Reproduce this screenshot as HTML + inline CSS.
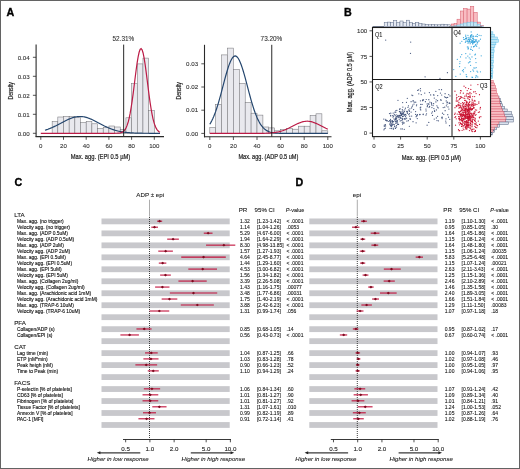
<!DOCTYPE html>
<html><head><meta charset="utf-8"><style>
html,body{margin:0;padding:0;background:#fff;}
.wrap{position:relative;width:520px;height:469px;overflow:hidden;background:#fff;}
svg{position:absolute;left:0;top:0;filter:blur(0.3px);font-family:"Liberation Sans", sans-serif;}
.bd{position:absolute;left:0;top:0;width:520px;height:469px;box-sizing:border-box;border:1px solid #636363;}
.bd2{position:absolute;left:1px;top:1px;width:518px;height:467px;box-sizing:border-box;border:1px solid #b4b4b4;border-left-color:#c8c8c8;border-top-color:#bdbdbd;}
</style></head><body><div class="wrap">
<svg width="520" height="469" viewBox="0 0 520 469">
<text x="6.60" y="16.00" font-size="10.7" text-anchor="start" fill="#000" font-weight="bold" stroke="#000" stroke-width="0.35">A</text>
<text x="343.90" y="15.80" font-size="10.7" text-anchor="start" fill="#000" font-weight="bold" stroke="#000" stroke-width="0.35">B</text>
<text x="14.40" y="185.50" font-size="10.7" text-anchor="start" fill="#000" font-weight="bold" stroke="#000" stroke-width="0.35">C</text>
<text x="295.40" y="186.00" font-size="10.7" text-anchor="start" fill="#000" font-weight="bold" stroke="#000" stroke-width="0.35">D</text>
<rect x="52.15" y="121.60" width="5.67" height="11.70" fill="#e9e9ee" stroke="#77777c" stroke-width="0.55" />
<rect x="57.82" y="117.00" width="5.67" height="16.30" fill="#e9e9ee" stroke="#77777c" stroke-width="0.55" />
<rect x="63.50" y="116.50" width="5.67" height="16.80" fill="#e9e9ee" stroke="#77777c" stroke-width="0.55" />
<rect x="69.17" y="116.50" width="5.67" height="16.80" fill="#e9e9ee" stroke="#77777c" stroke-width="0.55" />
<rect x="74.85" y="117.40" width="5.67" height="15.90" fill="#e9e9ee" stroke="#77777c" stroke-width="0.55" />
<rect x="80.53" y="122.50" width="5.67" height="10.80" fill="#e9e9ee" stroke="#77777c" stroke-width="0.55" />
<rect x="86.20" y="121.60" width="5.67" height="11.70" fill="#e9e9ee" stroke="#77777c" stroke-width="0.55" />
<rect x="91.88" y="123.80" width="5.67" height="9.50" fill="#e9e9ee" stroke="#77777c" stroke-width="0.55" />
<rect x="97.55" y="128.30" width="5.67" height="5.00" fill="#e9e9ee" stroke="#77777c" stroke-width="0.55" />
<rect x="103.22" y="127.40" width="5.67" height="5.90" fill="#e9e9ee" stroke="#77777c" stroke-width="0.55" />
<rect x="108.90" y="126.00" width="5.67" height="7.30" fill="#e9e9ee" stroke="#77777c" stroke-width="0.55" />
<rect x="114.58" y="127.00" width="5.67" height="6.30" fill="#e9e9ee" stroke="#77777c" stroke-width="0.55" />
<rect x="120.25" y="129.40" width="5.67" height="3.90" fill="#e9e9ee" stroke="#77777c" stroke-width="0.55" />
<rect x="125.92" y="117.80" width="5.67" height="15.50" fill="#e9e9ee" stroke="#77777c" stroke-width="0.55" />
<rect x="131.60" y="83.70" width="5.67" height="49.60" fill="#e9e9ee" stroke="#77777c" stroke-width="0.55" />
<rect x="137.27" y="63.90" width="5.67" height="69.40" fill="#e9e9ee" stroke="#77777c" stroke-width="0.55" />
<rect x="142.95" y="58.10" width="5.67" height="75.20" fill="#e9e9ee" stroke="#77777c" stroke-width="0.55" />
<rect x="148.62" y="110.40" width="5.67" height="22.90" fill="#e9e9ee" stroke="#77777c" stroke-width="0.55" />
<polyline points="45.00,130.20 45.96,129.91 46.92,129.59 47.87,129.26 48.83,128.90 49.79,128.53 50.75,128.14 51.71,127.73 52.66,127.31 53.62,126.87 54.58,126.41 55.54,125.94 56.50,125.46 57.46,124.97 58.41,124.47 59.37,123.96 60.33,123.45 61.29,122.93 62.25,122.42 63.20,121.91 64.16,121.41 65.12,120.92 66.08,120.44 67.04,119.97 67.99,119.53 68.95,119.10 69.91,118.70 70.87,118.32 71.83,117.98 72.79,117.66 73.74,117.38 74.70,117.14 75.66,116.93 76.62,116.77 77.58,116.64 78.53,116.56 79.49,116.52 80.45,116.52 81.41,116.56 82.37,116.65 83.32,116.77 84.28,116.94 85.24,117.15 86.20,117.39 87.16,117.67 88.12,117.99 89.07,118.33 90.03,118.71 90.99,119.11 91.95,119.54 92.91,119.99 93.86,120.45 94.82,120.93 95.78,121.43 96.74,121.93 97.70,122.44 98.65,122.95 99.61,123.46 100.57,123.97 101.53,124.48 102.49,124.98 103.45,125.47 104.40,125.96 105.36,126.42 106.32,126.88 107.28,127.32 108.24,127.75 109.19,128.15 110.15,128.54 111.11,128.92 112.07,129.27 113.03,129.60 113.98,129.92 114.94,130.21 115.90,130.49 116.86,130.75 117.82,130.99 118.78,131.21 119.73,131.42 120.69,131.61 121.65,131.78 122.61,131.94 123.57,132.09 124.52,132.22 125.48,132.35 126.44,132.45 127.40,132.55 128.36,132.64 129.31,132.72 130.27,132.79 131.23,132.86 132.19,132.91 133.15,132.96 134.11,133.01 135.06,133.05 136.02,133.08 136.98,133.11 137.94,133.14 138.90,133.16 139.85,133.18 140.81,133.20 141.77,133.21 142.73,133.23 143.69,133.24 144.64,133.25 145.60,133.26 146.56,133.26 147.52,133.27 148.48,133.27 149.44,133.28 150.39,133.28 151.35,133.29 152.31,133.29 153.27,133.29 154.23,133.29 155.18,133.29 156.14,133.29 157.10,133.30 158.06,133.30 159.02,133.30 159.97,133.30" fill="none" stroke="#24466e" stroke-width="1.2"/>
<polyline points="40.80,133.30 41.79,133.30 42.79,133.30 43.78,133.30 44.77,133.30 45.77,133.30 46.76,133.30 47.75,133.30 48.74,133.30 49.74,133.30 50.73,133.30 51.72,133.30 52.72,133.30 53.71,133.30 54.70,133.30 55.70,133.30 56.69,133.30 57.68,133.30 58.68,133.30 59.67,133.30 60.66,133.30 61.66,133.30 62.65,133.30 63.64,133.30 64.63,133.30 65.63,133.30 66.62,133.30 67.61,133.30 68.61,133.30 69.60,133.30 70.59,133.30 71.59,133.30 72.58,133.30 73.57,133.30 74.57,133.30 75.56,133.30 76.55,133.30 77.55,133.30 78.54,133.30 79.53,133.30 80.53,133.30 81.52,133.30 82.51,133.30 83.50,133.30 84.50,133.30 85.49,133.30 86.48,133.30 87.48,133.30 88.47,133.30 89.46,133.30 90.46,133.30 91.45,133.30 92.44,133.30 93.44,133.30 94.43,133.30 95.42,133.30 96.41,133.30 97.41,133.30 98.40,133.30 99.39,133.30 100.39,133.30 101.38,133.30 102.37,133.30 103.37,133.30 104.36,133.30 105.35,133.30 106.35,133.30 107.34,133.30 108.33,133.30 109.33,133.30 110.32,133.30 111.31,133.30 112.30,133.30 113.30,133.29 114.29,133.29 115.28,133.27 116.28,133.25 117.27,133.22 118.26,133.15 119.26,133.04 120.25,132.87 121.24,132.60 122.24,132.17 123.23,131.54 124.22,130.63 125.22,129.32 126.21,127.53 127.20,125.13 128.19,122.00 129.19,118.05 130.18,113.21 131.17,107.46 132.17,100.87 133.16,93.56 134.15,85.76 135.15,77.79 136.14,70.04 137.13,62.92 138.13,56.87 139.12,52.28 140.11,49.47 141.11,48.62 142.10,49.81 143.09,52.95 144.08,57.81 145.08,64.08 146.07,71.34 147.06,79.16 148.06,87.12 149.05,94.85 150.04,102.05 151.04,108.51 152.03,114.10 153.02,118.79 154.02,122.59 155.01,125.59 156.00,127.88 157.00,129.58 157.99,130.81 158.98,131.67 159.97,132.26" fill="none" stroke="#bc1b46" stroke-width="1.2"/>
<line x1="123.66" y1="44.60" x2="123.66" y2="136.60" stroke="#111" stroke-width="0.9" />
<text x="123.36" y="40.60" font-size="6.4" text-anchor="middle" fill="#333" stroke="#333" stroke-width="0.1">52.31%</text>
<line x1="36.10" y1="44.60" x2="36.10" y2="137.10" stroke="#2a2a2a" stroke-width="1.1" />
<line x1="35.60" y1="136.60" x2="164.00" y2="136.60" stroke="#2a2a2a" stroke-width="1.1" />
<line x1="32.90" y1="133.30" x2="36.10" y2="133.30" stroke="#2a2a2a" stroke-width="0.8" />
<text x="29.70" y="135.55" font-size="6.2" text-anchor="end" fill="#333" stroke="#333" stroke-width="0.1">0.00</text>
<line x1="32.90" y1="114.30" x2="36.10" y2="114.30" stroke="#2a2a2a" stroke-width="0.8" />
<text x="29.70" y="116.55" font-size="6.2" text-anchor="end" fill="#333" stroke="#333" stroke-width="0.1">0.01</text>
<line x1="32.90" y1="95.30" x2="36.10" y2="95.30" stroke="#2a2a2a" stroke-width="0.8" />
<text x="29.70" y="97.55" font-size="6.2" text-anchor="end" fill="#333" stroke="#333" stroke-width="0.1">0.02</text>
<line x1="32.90" y1="76.30" x2="36.10" y2="76.30" stroke="#2a2a2a" stroke-width="0.8" />
<text x="29.70" y="78.55" font-size="6.2" text-anchor="end" fill="#333" stroke="#333" stroke-width="0.1">0.03</text>
<line x1="32.90" y1="57.30" x2="36.10" y2="57.30" stroke="#2a2a2a" stroke-width="0.8" />
<text x="29.70" y="59.55" font-size="6.2" text-anchor="end" fill="#333" stroke="#333" stroke-width="0.1">0.04</text>
<line x1="40.80" y1="136.60" x2="40.80" y2="139.80" stroke="#2a2a2a" stroke-width="0.8" />
<text x="40.80" y="147.90" font-size="6.1" text-anchor="middle" fill="#333" stroke="#333" stroke-width="0.1">0</text>
<line x1="63.50" y1="136.60" x2="63.50" y2="139.80" stroke="#2a2a2a" stroke-width="0.8" />
<text x="63.50" y="147.90" font-size="6.1" text-anchor="middle" fill="#333" stroke="#333" stroke-width="0.1">20</text>
<line x1="86.20" y1="136.60" x2="86.20" y2="139.80" stroke="#2a2a2a" stroke-width="0.8" />
<text x="86.20" y="147.90" font-size="6.1" text-anchor="middle" fill="#333" stroke="#333" stroke-width="0.1">40</text>
<line x1="108.90" y1="136.60" x2="108.90" y2="139.80" stroke="#2a2a2a" stroke-width="0.8" />
<text x="108.90" y="147.90" font-size="6.1" text-anchor="middle" fill="#333" stroke="#333" stroke-width="0.1">60</text>
<line x1="131.60" y1="136.60" x2="131.60" y2="139.80" stroke="#2a2a2a" stroke-width="0.8" />
<text x="131.60" y="147.90" font-size="6.1" text-anchor="middle" fill="#333" stroke="#333" stroke-width="0.1">80</text>
<line x1="154.30" y1="136.60" x2="154.30" y2="139.80" stroke="#2a2a2a" stroke-width="0.8" />
<text x="154.30" y="147.90" font-size="6.1" text-anchor="middle" fill="#333" stroke="#333" stroke-width="0.1">100</text>
<text x="100.45" y="159.40" font-size="7.5" text-anchor="middle" fill="#222" textLength="59.5" lengthAdjust="spacingAndGlyphs" stroke="#222" stroke-width="0.22">Max. agg. (EPI 0.5 &#181;M)</text>
<text x="0" y="0" font-size="7.9" text-anchor="middle" fill="#222" stroke="#222" stroke-width="0.2" textLength="17.6" lengthAdjust="spacingAndGlyphs" transform="translate(12.6,90.8) rotate(-90)">Density</text>
<rect x="209.80" y="127.50" width="5.90" height="5.90" fill="#e9e9ee" stroke="#77777c" stroke-width="0.55" />
<rect x="215.70" y="104.40" width="5.90" height="29.00" fill="#e9e9ee" stroke="#77777c" stroke-width="0.55" />
<rect x="221.60" y="54.90" width="5.90" height="78.50" fill="#e9e9ee" stroke="#77777c" stroke-width="0.55" />
<rect x="227.50" y="48.10" width="5.90" height="85.30" fill="#e9e9ee" stroke="#77777c" stroke-width="0.55" />
<rect x="233.40" y="69.40" width="5.90" height="64.00" fill="#e9e9ee" stroke="#77777c" stroke-width="0.55" />
<rect x="239.30" y="83.50" width="5.90" height="49.90" fill="#e9e9ee" stroke="#77777c" stroke-width="0.55" />
<rect x="245.20" y="102.50" width="5.90" height="30.90" fill="#e9e9ee" stroke="#77777c" stroke-width="0.55" />
<rect x="251.10" y="113.20" width="5.90" height="20.20" fill="#e9e9ee" stroke="#77777c" stroke-width="0.55" />
<rect x="257.00" y="115.10" width="5.90" height="18.30" fill="#e9e9ee" stroke="#77777c" stroke-width="0.55" />
<rect x="262.90" y="127.00" width="5.90" height="6.40" fill="#e9e9ee" stroke="#77777c" stroke-width="0.55" />
<rect x="268.80" y="127.90" width="5.90" height="5.50" fill="#e9e9ee" stroke="#77777c" stroke-width="0.55" />
<rect x="274.70" y="130.80" width="5.90" height="2.60" fill="#e9e9ee" stroke="#77777c" stroke-width="0.55" />
<rect x="280.60" y="129.70" width="5.90" height="3.70" fill="#e9e9ee" stroke="#77777c" stroke-width="0.55" />
<rect x="286.50" y="128.50" width="5.90" height="4.90" fill="#e9e9ee" stroke="#77777c" stroke-width="0.55" />
<rect x="292.40" y="129.20" width="5.90" height="4.20" fill="#e9e9ee" stroke="#77777c" stroke-width="0.55" />
<rect x="298.30" y="126.20" width="5.90" height="7.20" fill="#e9e9ee" stroke="#77777c" stroke-width="0.55" />
<rect x="304.20" y="126.20" width="5.90" height="7.20" fill="#e9e9ee" stroke="#77777c" stroke-width="0.55" />
<rect x="310.10" y="115.40" width="5.90" height="18.00" fill="#e9e9ee" stroke="#77777c" stroke-width="0.55" />
<rect x="316.00" y="113.80" width="5.90" height="19.60" fill="#e9e9ee" stroke="#77777c" stroke-width="0.55" />
<rect x="321.90" y="130.80" width="5.90" height="2.60" fill="#e9e9ee" stroke="#77777c" stroke-width="0.55" />
<polyline points="209.80,124.26 210.78,122.65 211.77,120.84 212.75,118.81 213.73,116.56 214.72,114.09 215.70,111.41 216.68,108.50 217.67,105.40 218.65,102.11 219.63,98.66 220.62,95.07 221.60,91.39 222.58,87.64 223.57,83.88 224.55,80.16 225.53,76.52 226.52,73.02 227.50,69.71 228.48,66.66 229.47,63.90 230.45,61.49 231.43,59.48 232.42,57.90 233.40,56.78 234.38,56.13 235.37,55.98 236.35,56.33 237.33,57.17 238.32,58.48 239.30,60.24 240.28,62.41 241.27,64.96 242.25,67.84 243.23,71.01 244.22,74.40 245.20,77.96 246.18,81.64 247.17,85.39 248.15,89.15 249.13,92.87 250.12,96.52 251.10,100.06 252.08,103.45 253.07,106.67 254.05,109.69 255.03,112.51 256.02,115.11 257.00,117.49 257.98,119.64 258.97,121.59 259.95,123.32 260.93,124.85 261.92,126.20 262.90,127.37 263.88,128.39 264.87,129.26 265.85,130.00 266.83,130.62 267.82,131.15 268.80,131.59 269.78,131.95 270.77,132.25 271.75,132.49 272.73,132.68 273.72,132.84 274.70,132.97 275.68,133.07 276.67,133.15 277.65,133.21 278.63,133.25 279.62,133.29 280.60,133.32 281.58,133.34 282.57,133.36 283.55,133.37 284.53,133.38 285.52,133.38 286.50,133.39 287.48,133.39 288.47,133.39 289.45,133.40 290.43,133.40 291.42,133.40 292.40,133.40 293.38,133.40 294.37,133.40 295.35,133.40 296.33,133.40 297.32,133.40 298.30,133.40 299.28,133.40 300.27,133.40 301.25,133.40 302.23,133.40 303.22,133.40 304.20,133.40 305.18,133.40 306.17,133.40 307.15,133.40 308.13,133.40 309.12,133.40 310.10,133.40 311.08,133.40 312.07,133.40 313.05,133.40 314.03,133.40 315.02,133.40 316.00,133.40 316.98,133.40 317.97,133.40 318.95,133.40 319.93,133.40 320.92,133.40 321.90,133.40 322.88,133.40 323.87,133.40 324.85,133.40 325.83,133.40 326.82,133.40 327.80,133.40" fill="none" stroke="#24466e" stroke-width="1.2"/>
<polyline points="209.80,133.40 210.78,133.40 211.77,133.40 212.75,133.40 213.73,133.40 214.72,133.40 215.70,133.40 216.68,133.40 217.67,133.40 218.65,133.40 219.63,133.40 220.62,133.40 221.60,133.40 222.58,133.40 223.57,133.40 224.55,133.40 225.53,133.40 226.52,133.40 227.50,133.40 228.48,133.40 229.47,133.40 230.45,133.40 231.43,133.40 232.42,133.40 233.40,133.40 234.38,133.40 235.37,133.40 236.35,133.40 237.33,133.40 238.32,133.40 239.30,133.40 240.28,133.40 241.27,133.40 242.25,133.40 243.23,133.40 244.22,133.40 245.20,133.40 246.18,133.40 247.17,133.40 248.15,133.40 249.13,133.40 250.12,133.40 251.10,133.40 252.08,133.39 253.07,133.39 254.05,133.39 255.03,133.39 256.02,133.38 257.00,133.38 257.98,133.37 258.97,133.36 259.95,133.35 260.93,133.34 261.92,133.33 262.90,133.31 263.88,133.29 264.87,133.26 265.85,133.23 266.83,133.19 267.82,133.14 268.80,133.09 269.78,133.03 270.77,132.95 271.75,132.86 272.73,132.76 273.72,132.65 274.70,132.52 275.68,132.37 276.67,132.20 277.65,132.01 278.63,131.80 279.62,131.56 280.60,131.30 281.58,131.01 282.57,130.70 283.55,130.36 284.53,130.00 285.52,129.61 286.50,129.19 287.48,128.75 288.47,128.30 289.45,127.82 290.43,127.33 291.42,126.83 292.40,126.32 293.38,125.80 294.37,125.29 295.35,124.79 296.33,124.30 297.32,123.82 298.30,123.38 299.28,122.96 300.27,122.57 301.25,122.23 302.23,121.93 303.22,121.67 304.20,121.48 305.18,121.33 306.17,121.24 307.15,121.21 308.13,121.24 309.12,121.33 310.10,121.48 311.08,121.67 312.07,121.93 313.05,122.23 314.03,122.57 315.02,122.96 316.00,123.38 316.98,123.82 317.97,124.30 318.95,124.79 319.93,125.29 320.92,125.80 321.90,126.32 322.88,126.83 323.87,127.33 324.85,127.82 325.83,128.30 326.82,128.75 327.80,129.19" fill="none" stroke="#bc1b46" stroke-width="1.2"/>
<line x1="271.75" y1="44.80" x2="271.75" y2="136.80" stroke="#111" stroke-width="0.9" />
<text x="271.45" y="40.60" font-size="6.4" text-anchor="middle" fill="#333" stroke="#333" stroke-width="0.1">73.20%</text>
<line x1="204.50" y1="44.80" x2="204.50" y2="137.30" stroke="#2a2a2a" stroke-width="1.1" />
<line x1="204.00" y1="136.80" x2="331.50" y2="136.80" stroke="#2a2a2a" stroke-width="1.1" />
<line x1="201.30" y1="133.40" x2="204.50" y2="133.40" stroke="#2a2a2a" stroke-width="0.8" />
<text x="198.10" y="135.65" font-size="6.2" text-anchor="end" fill="#333" stroke="#333" stroke-width="0.1">0.00</text>
<line x1="201.30" y1="110.20" x2="204.50" y2="110.20" stroke="#2a2a2a" stroke-width="0.8" />
<text x="198.10" y="112.45" font-size="6.2" text-anchor="end" fill="#333" stroke="#333" stroke-width="0.1">0.01</text>
<line x1="201.30" y1="87.00" x2="204.50" y2="87.00" stroke="#2a2a2a" stroke-width="0.8" />
<text x="198.10" y="89.25" font-size="6.2" text-anchor="end" fill="#333" stroke="#333" stroke-width="0.1">0.02</text>
<line x1="201.30" y1="63.80" x2="204.50" y2="63.80" stroke="#2a2a2a" stroke-width="0.8" />
<text x="198.10" y="66.05" font-size="6.2" text-anchor="end" fill="#333" stroke="#333" stroke-width="0.1">0.03</text>
<line x1="209.80" y1="136.80" x2="209.80" y2="140.00" stroke="#2a2a2a" stroke-width="0.8" />
<text x="209.80" y="147.90" font-size="6.1" text-anchor="middle" fill="#333" stroke="#333" stroke-width="0.1">0</text>
<line x1="233.40" y1="136.80" x2="233.40" y2="140.00" stroke="#2a2a2a" stroke-width="0.8" />
<text x="233.40" y="147.90" font-size="6.1" text-anchor="middle" fill="#333" stroke="#333" stroke-width="0.1">20</text>
<line x1="257.00" y1="136.80" x2="257.00" y2="140.00" stroke="#2a2a2a" stroke-width="0.8" />
<text x="257.00" y="147.90" font-size="6.1" text-anchor="middle" fill="#333" stroke="#333" stroke-width="0.1">40</text>
<line x1="280.60" y1="136.80" x2="280.60" y2="140.00" stroke="#2a2a2a" stroke-width="0.8" />
<text x="280.60" y="147.90" font-size="6.1" text-anchor="middle" fill="#333" stroke="#333" stroke-width="0.1">60</text>
<line x1="304.20" y1="136.80" x2="304.20" y2="140.00" stroke="#2a2a2a" stroke-width="0.8" />
<text x="304.20" y="147.90" font-size="6.1" text-anchor="middle" fill="#333" stroke="#333" stroke-width="0.1">80</text>
<line x1="327.80" y1="136.80" x2="327.80" y2="140.00" stroke="#2a2a2a" stroke-width="0.8" />
<text x="327.80" y="147.90" font-size="6.1" text-anchor="middle" fill="#333" stroke="#333" stroke-width="0.1">100</text>
<text x="268.40" y="159.40" font-size="7.5" text-anchor="middle" fill="#222" textLength="60.0" lengthAdjust="spacingAndGlyphs" stroke="#222" stroke-width="0.22">Max. agg. (ADP 0.5 uM)</text>
<text x="0" y="0" font-size="7.9" text-anchor="middle" fill="#222" stroke="#222" stroke-width="0.2" textLength="17.6" lengthAdjust="spacingAndGlyphs" transform="translate(181.3,90.8) rotate(-90)">Density</text>
<rect x="384.20" y="22.70" width="3.15" height="3.90" fill="#e4e9f2" stroke="#5a6985" stroke-width="0.5" />
<rect x="387.35" y="22.10" width="3.15" height="4.50" fill="#e4e9f2" stroke="#5a6985" stroke-width="0.5" />
<rect x="390.50" y="22.30" width="3.15" height="4.30" fill="#e4e9f2" stroke="#5a6985" stroke-width="0.5" />
<rect x="393.65" y="20.40" width="3.15" height="6.20" fill="#e4e9f2" stroke="#5a6985" stroke-width="0.5" />
<rect x="396.80" y="22.70" width="3.15" height="3.90" fill="#e4e9f2" stroke="#5a6985" stroke-width="0.5" />
<rect x="399.95" y="21.00" width="3.15" height="5.60" fill="#e4e9f2" stroke="#5a6985" stroke-width="0.5" />
<rect x="403.10" y="22.70" width="3.15" height="3.90" fill="#e4e9f2" stroke="#5a6985" stroke-width="0.5" />
<rect x="406.25" y="20.20" width="3.15" height="6.40" fill="#e4e9f2" stroke="#5a6985" stroke-width="0.5" />
<rect x="409.40" y="22.50" width="3.15" height="4.10" fill="#e4e9f2" stroke="#5a6985" stroke-width="0.5" />
<rect x="412.55" y="23.50" width="3.15" height="3.10" fill="#e4e9f2" stroke="#5a6985" stroke-width="0.5" />
<rect x="415.70" y="22.30" width="3.15" height="4.30" fill="#e4e9f2" stroke="#5a6985" stroke-width="0.5" />
<rect x="418.85" y="23.50" width="3.15" height="3.10" fill="#e4e9f2" stroke="#5a6985" stroke-width="0.5" />
<rect x="422.00" y="24.00" width="3.15" height="2.60" fill="#e4e9f2" stroke="#5a6985" stroke-width="0.5" />
<rect x="425.15" y="24.50" width="3.15" height="2.10" fill="#e4e9f2" stroke="#5a6985" stroke-width="0.5" />
<rect x="428.30" y="24.80" width="3.15" height="1.80" fill="#e4e9f2" stroke="#5a6985" stroke-width="0.5" />
<rect x="431.45" y="24.60" width="3.15" height="2.00" fill="#e4e9f2" stroke="#5a6985" stroke-width="0.5" />
<rect x="434.60" y="24.80" width="3.15" height="1.80" fill="#e4e9f2" stroke="#5a6985" stroke-width="0.5" />
<rect x="437.75" y="24.80" width="3.15" height="1.80" fill="#e4e9f2" stroke="#5a6985" stroke-width="0.5" />
<rect x="440.90" y="24.20" width="3.15" height="2.40" fill="#e4e9f2" stroke="#5a6985" stroke-width="0.5" />
<rect x="444.05" y="24.50" width="3.15" height="2.10" fill="#e4e9f2" stroke="#5a6985" stroke-width="0.5" />
<rect x="447.20" y="24.80" width="3.15" height="1.80" fill="#e4e9f2" stroke="#5a6985" stroke-width="0.5" />
<line x1="372.60" y1="26.60" x2="384.00" y2="26.60" stroke="#3b4660" stroke-width="0.8" />
<rect x="451.20" y="24.00" width="2.90" height="2.60" fill="#f8bcc2" stroke="#d65a6a" stroke-width="0.5" />
<rect x="451.20" y="26.20" width="2.90" height="0.40" fill="#bfe6f5" stroke="#6cc3e8" stroke-width="0.5" />
<rect x="454.10" y="23.60" width="2.90" height="3.00" fill="#f8bcc2" stroke="#d65a6a" stroke-width="0.5" />
<rect x="454.10" y="25.80" width="2.90" height="0.80" fill="#bfe6f5" stroke="#6cc3e8" stroke-width="0.5" />
<rect x="457.00" y="19.20" width="3.40" height="7.40" fill="#f8bcc2" stroke="#d65a6a" stroke-width="0.5" />
<rect x="457.00" y="25.00" width="3.40" height="1.60" fill="#bfe6f5" stroke="#6cc3e8" stroke-width="0.5" />
<rect x="460.40" y="11.00" width="3.10" height="15.60" fill="#f8bcc2" stroke="#d65a6a" stroke-width="0.5" />
<rect x="460.40" y="24.00" width="3.10" height="2.60" fill="#bfe6f5" stroke="#6cc3e8" stroke-width="0.5" />
<rect x="463.50" y="8.50" width="3.60" height="18.10" fill="#f8bcc2" stroke="#d65a6a" stroke-width="0.5" />
<rect x="463.50" y="23.00" width="3.60" height="3.60" fill="#bfe6f5" stroke="#6cc3e8" stroke-width="0.5" />
<rect x="467.10" y="9.10" width="3.40" height="17.50" fill="#f8bcc2" stroke="#d65a6a" stroke-width="0.5" />
<rect x="467.10" y="22.60" width="3.40" height="4.00" fill="#bfe6f5" stroke="#6cc3e8" stroke-width="0.5" />
<rect x="470.50" y="6.30" width="3.30" height="20.30" fill="#f8bcc2" stroke="#d65a6a" stroke-width="0.5" />
<rect x="470.50" y="22.00" width="3.30" height="4.60" fill="#bfe6f5" stroke="#6cc3e8" stroke-width="0.5" />
<rect x="473.80" y="12.30" width="3.40" height="14.30" fill="#f8bcc2" stroke="#d65a6a" stroke-width="0.5" />
<rect x="473.80" y="22.40" width="3.40" height="4.20" fill="#bfe6f5" stroke="#6cc3e8" stroke-width="0.5" />
<rect x="477.20" y="22.10" width="3.40" height="4.50" fill="#f8bcc2" stroke="#d65a6a" stroke-width="0.5" />
<rect x="477.20" y="24.20" width="3.40" height="2.40" fill="#bfe6f5" stroke="#6cc3e8" stroke-width="0.5" />
<rect x="480.60" y="25.40" width="2.80" height="1.20" fill="#f8bcc2" stroke="#d65a6a" stroke-width="0.5" />
<rect x="480.60" y="26.00" width="2.80" height="0.60" fill="#bfe6f5" stroke="#6cc3e8" stroke-width="0.5" />
<line x1="449.00" y1="26.60" x2="482.00" y2="26.60" stroke="#555" stroke-width="0.5" />
<rect x="490.90" y="31.80" width="2.00" height="2.60" fill="#bfe6f5" stroke="#5fbde6" stroke-width="0.5" />
<rect x="490.90" y="34.40" width="3.50" height="2.60" fill="#bfe6f5" stroke="#5fbde6" stroke-width="0.5" />
<rect x="490.90" y="37.00" width="6.50" height="2.60" fill="#bfe6f5" stroke="#5fbde6" stroke-width="0.5" />
<rect x="490.90" y="39.60" width="7.50" height="2.60" fill="#bfe6f5" stroke="#5fbde6" stroke-width="0.5" />
<rect x="490.90" y="42.20" width="5.00" height="2.60" fill="#bfe6f5" stroke="#5fbde6" stroke-width="0.5" />
<rect x="490.90" y="44.80" width="4.00" height="2.60" fill="#bfe6f5" stroke="#5fbde6" stroke-width="0.5" />
<rect x="490.90" y="47.40" width="3.00" height="2.60" fill="#bfe6f5" stroke="#5fbde6" stroke-width="0.5" />
<rect x="490.90" y="50.00" width="3.20" height="2.60" fill="#bfe6f5" stroke="#5fbde6" stroke-width="0.5" />
<rect x="490.90" y="52.60" width="2.80" height="2.60" fill="#bfe6f5" stroke="#5fbde6" stroke-width="0.5" />
<rect x="490.90" y="55.20" width="2.50" height="2.60" fill="#bfe6f5" stroke="#5fbde6" stroke-width="0.5" />
<rect x="490.90" y="57.80" width="2.20" height="2.60" fill="#bfe6f5" stroke="#5fbde6" stroke-width="0.5" />
<rect x="490.90" y="60.40" width="2.40" height="2.60" fill="#bfe6f5" stroke="#5fbde6" stroke-width="0.5" />
<rect x="490.90" y="63.00" width="2.00" height="2.60" fill="#bfe6f5" stroke="#5fbde6" stroke-width="0.5" />
<rect x="490.90" y="65.60" width="2.20" height="2.60" fill="#bfe6f5" stroke="#5fbde6" stroke-width="0.5" />
<rect x="490.90" y="68.20" width="1.80" height="2.60" fill="#bfe6f5" stroke="#5fbde6" stroke-width="0.5" />
<rect x="490.90" y="70.80" width="2.00" height="2.60" fill="#bfe6f5" stroke="#5fbde6" stroke-width="0.5" />
<rect x="490.90" y="73.40" width="1.60" height="2.60" fill="#bfe6f5" stroke="#5fbde6" stroke-width="0.5" />
<rect x="490.90" y="76.00" width="1.80" height="2.60" fill="#bfe6f5" stroke="#5fbde6" stroke-width="0.5" />
<rect x="490.90" y="80.40" width="2.30" height="2.60" fill="#f8bcc2" stroke="#d65a6a" stroke-width="0.5" />
<rect x="490.90" y="83.00" width="3.80" height="2.60" fill="#f8bcc2" stroke="#d65a6a" stroke-width="0.5" />
<rect x="490.90" y="85.60" width="4.70" height="2.60" fill="#f8bcc2" stroke="#d65a6a" stroke-width="0.5" />
<rect x="490.90" y="88.20" width="5.30" height="2.60" fill="#f8bcc2" stroke="#d65a6a" stroke-width="0.5" />
<rect x="490.90" y="90.80" width="5.60" height="2.60" fill="#f8bcc2" stroke="#d65a6a" stroke-width="0.5" />
<rect x="490.90" y="93.40" width="6.50" height="2.60" fill="#f8bcc2" stroke="#d65a6a" stroke-width="0.5" />
<rect x="498.70" y="96.00" width="0.30" height="2.60" fill="#dbe2ee" stroke="#53627f" stroke-width="0.5" />
<rect x="490.90" y="96.00" width="7.80" height="2.60" fill="#f8bcc2" stroke="#d65a6a" stroke-width="0.5" />
<rect x="499.40" y="98.60" width="0.90" height="2.60" fill="#dbe2ee" stroke="#53627f" stroke-width="0.5" />
<rect x="490.90" y="98.60" width="8.50" height="2.60" fill="#f8bcc2" stroke="#d65a6a" stroke-width="0.5" />
<rect x="499.80" y="101.20" width="1.60" height="2.60" fill="#dbe2ee" stroke="#53627f" stroke-width="0.5" />
<rect x="490.90" y="101.20" width="8.90" height="2.60" fill="#f8bcc2" stroke="#d65a6a" stroke-width="0.5" />
<rect x="500.40" y="103.80" width="2.30" height="2.60" fill="#dbe2ee" stroke="#53627f" stroke-width="0.5" />
<rect x="490.90" y="103.80" width="9.50" height="2.60" fill="#f8bcc2" stroke="#d65a6a" stroke-width="0.5" />
<rect x="501.40" y="106.40" width="3.20" height="2.60" fill="#dbe2ee" stroke="#53627f" stroke-width="0.5" />
<rect x="490.90" y="106.40" width="10.50" height="2.60" fill="#f8bcc2" stroke="#d65a6a" stroke-width="0.5" />
<rect x="502.40" y="109.00" width="4.80" height="2.60" fill="#dbe2ee" stroke="#53627f" stroke-width="0.5" />
<rect x="490.90" y="109.00" width="11.50" height="2.60" fill="#f8bcc2" stroke="#d65a6a" stroke-width="0.5" />
<rect x="503.90" y="111.60" width="7.50" height="2.60" fill="#dbe2ee" stroke="#53627f" stroke-width="0.5" />
<rect x="490.90" y="111.60" width="13.00" height="2.60" fill="#f8bcc2" stroke="#d65a6a" stroke-width="0.5" />
<rect x="504.40" y="114.20" width="7.80" height="2.60" fill="#dbe2ee" stroke="#53627f" stroke-width="0.5" />
<rect x="490.90" y="114.20" width="13.50" height="2.60" fill="#f8bcc2" stroke="#d65a6a" stroke-width="0.5" />
<rect x="505.90" y="116.80" width="7.40" height="2.60" fill="#dbe2ee" stroke="#53627f" stroke-width="0.5" />
<rect x="490.90" y="116.80" width="15.00" height="2.60" fill="#f8bcc2" stroke="#d65a6a" stroke-width="0.5" />
<rect x="505.40" y="119.40" width="8.00" height="2.60" fill="#dbe2ee" stroke="#53627f" stroke-width="0.5" />
<rect x="490.90" y="119.40" width="14.50" height="2.60" fill="#f8bcc2" stroke="#d65a6a" stroke-width="0.5" />
<rect x="498.90" y="122.00" width="9.50" height="2.60" fill="#dbe2ee" stroke="#53627f" stroke-width="0.5" />
<rect x="490.90" y="122.00" width="8.00" height="2.60" fill="#f8bcc2" stroke="#d65a6a" stroke-width="0.5" />
<rect x="497.10" y="124.60" width="2.40" height="2.60" fill="#dbe2ee" stroke="#53627f" stroke-width="0.5" />
<rect x="490.90" y="124.60" width="6.20" height="2.60" fill="#f8bcc2" stroke="#d65a6a" stroke-width="0.5" />
<rect x="494.70" y="127.20" width="2.00" height="2.60" fill="#dbe2ee" stroke="#53627f" stroke-width="0.5" />
<rect x="490.90" y="127.20" width="3.80" height="2.60" fill="#f8bcc2" stroke="#d65a6a" stroke-width="0.5" />
<rect x="492.90" y="129.80" width="1.40" height="2.60" fill="#dbe2ee" stroke="#53627f" stroke-width="0.5" />
<rect x="490.90" y="129.80" width="2.00" height="2.60" fill="#f8bcc2" stroke="#d65a6a" stroke-width="0.5" />
<rect x="490.90" y="132.40" width="1.70" height="2.60" fill="#dbe2ee" stroke="#53627f" stroke-width="0.5" />
<g>
<circle cx="397.72" cy="124.43" r="0.62" fill="#41527a"/>
<circle cx="409.71" cy="116.14" r="0.62" fill="#41527a"/>
<circle cx="408.48" cy="105.83" r="0.62" fill="#41527a"/>
<circle cx="392.79" cy="121.67" r="0.62" fill="#41527a"/>
<circle cx="394.71" cy="126.72" r="0.62" fill="#41527a"/>
<circle cx="392.64" cy="121.95" r="0.62" fill="#41527a"/>
<circle cx="402.56" cy="124.03" r="0.62" fill="#41527a"/>
<circle cx="396.90" cy="110.29" r="0.62" fill="#41527a"/>
<circle cx="404.16" cy="122.92" r="0.62" fill="#41527a"/>
<circle cx="411.58" cy="107.92" r="0.62" fill="#41527a"/>
<circle cx="396.54" cy="127.08" r="0.62" fill="#41527a"/>
<circle cx="403.56" cy="113.94" r="0.62" fill="#41527a"/>
<circle cx="396.17" cy="114.78" r="0.62" fill="#41527a"/>
<circle cx="393.98" cy="118.80" r="0.62" fill="#41527a"/>
<circle cx="401.60" cy="115.31" r="0.62" fill="#41527a"/>
<circle cx="404.86" cy="109.85" r="0.62" fill="#41527a"/>
<circle cx="395.58" cy="119.42" r="0.62" fill="#41527a"/>
<circle cx="396.03" cy="118.25" r="0.62" fill="#41527a"/>
<circle cx="403.61" cy="116.10" r="0.62" fill="#41527a"/>
<circle cx="389.54" cy="120.61" r="0.62" fill="#41527a"/>
<circle cx="400.98" cy="112.97" r="0.62" fill="#41527a"/>
<circle cx="391.34" cy="125.35" r="0.62" fill="#41527a"/>
<circle cx="390.05" cy="121.67" r="0.62" fill="#41527a"/>
<circle cx="393.18" cy="113.01" r="0.62" fill="#41527a"/>
<circle cx="386.62" cy="120.66" r="0.62" fill="#41527a"/>
<circle cx="383.91" cy="129.83" r="0.62" fill="#41527a"/>
<circle cx="397.74" cy="115.38" r="0.62" fill="#41527a"/>
<circle cx="405.52" cy="116.63" r="0.62" fill="#41527a"/>
<circle cx="395.30" cy="121.04" r="0.62" fill="#41527a"/>
<circle cx="390.68" cy="122.70" r="0.62" fill="#41527a"/>
<circle cx="400.89" cy="128.92" r="0.62" fill="#41527a"/>
<circle cx="403.89" cy="114.30" r="0.62" fill="#41527a"/>
<circle cx="394.69" cy="126.03" r="0.62" fill="#41527a"/>
<circle cx="402.33" cy="119.78" r="0.62" fill="#41527a"/>
<circle cx="406.84" cy="121.07" r="0.62" fill="#41527a"/>
<circle cx="395.54" cy="128.02" r="0.62" fill="#41527a"/>
<circle cx="390.05" cy="128.36" r="0.62" fill="#41527a"/>
<circle cx="400.55" cy="113.05" r="0.62" fill="#41527a"/>
<circle cx="399.65" cy="109.29" r="0.62" fill="#41527a"/>
<circle cx="407.35" cy="113.35" r="0.62" fill="#41527a"/>
<circle cx="385.79" cy="120.49" r="0.62" fill="#41527a"/>
<circle cx="391.42" cy="124.06" r="0.62" fill="#41527a"/>
<circle cx="398.55" cy="116.19" r="0.62" fill="#41527a"/>
<circle cx="402.18" cy="118.49" r="0.62" fill="#41527a"/>
<circle cx="390.73" cy="121.58" r="0.62" fill="#41527a"/>
<circle cx="409.94" cy="108.75" r="0.62" fill="#41527a"/>
<circle cx="404.84" cy="119.13" r="0.62" fill="#41527a"/>
<circle cx="403.08" cy="123.32" r="0.62" fill="#41527a"/>
<circle cx="401.04" cy="118.11" r="0.62" fill="#41527a"/>
<circle cx="406.05" cy="115.07" r="0.62" fill="#41527a"/>
<circle cx="385.36" cy="128.13" r="0.62" fill="#41527a"/>
<circle cx="402.96" cy="110.79" r="0.62" fill="#41527a"/>
<circle cx="402.86" cy="107.07" r="0.62" fill="#41527a"/>
<circle cx="400.55" cy="113.70" r="0.62" fill="#41527a"/>
<circle cx="395.14" cy="115.68" r="0.62" fill="#41527a"/>
<circle cx="404.48" cy="111.29" r="0.62" fill="#41527a"/>
<circle cx="393.44" cy="116.16" r="0.62" fill="#41527a"/>
<circle cx="397.24" cy="121.24" r="0.62" fill="#41527a"/>
<circle cx="400.51" cy="113.51" r="0.62" fill="#41527a"/>
<circle cx="389.48" cy="113.52" r="0.62" fill="#41527a"/>
<circle cx="402.82" cy="111.81" r="0.62" fill="#41527a"/>
<circle cx="396.46" cy="122.88" r="0.62" fill="#41527a"/>
<circle cx="401.86" cy="113.38" r="0.62" fill="#41527a"/>
<circle cx="392.69" cy="115.50" r="0.62" fill="#41527a"/>
<circle cx="407.23" cy="111.40" r="0.62" fill="#41527a"/>
<circle cx="402.88" cy="118.77" r="0.62" fill="#41527a"/>
<circle cx="395.80" cy="112.21" r="0.62" fill="#41527a"/>
<circle cx="403.12" cy="122.13" r="0.62" fill="#41527a"/>
<circle cx="408.80" cy="109.78" r="0.62" fill="#41527a"/>
<circle cx="413.61" cy="109.57" r="0.62" fill="#41527a"/>
<circle cx="405.40" cy="108.15" r="0.62" fill="#41527a"/>
<circle cx="401.61" cy="114.86" r="0.62" fill="#41527a"/>
<circle cx="396.56" cy="125.62" r="0.62" fill="#41527a"/>
<circle cx="388.30" cy="121.50" r="0.62" fill="#41527a"/>
<circle cx="408.78" cy="114.58" r="0.62" fill="#41527a"/>
<circle cx="402.54" cy="119.61" r="0.62" fill="#41527a"/>
<circle cx="409.18" cy="110.78" r="0.62" fill="#41527a"/>
<circle cx="394.67" cy="119.93" r="0.62" fill="#41527a"/>
<circle cx="385.57" cy="125.97" r="0.62" fill="#41527a"/>
<circle cx="399.62" cy="115.43" r="0.62" fill="#41527a"/>
<circle cx="411.10" cy="112.06" r="0.62" fill="#41527a"/>
<circle cx="415.71" cy="102.22" r="0.62" fill="#41527a"/>
<circle cx="392.21" cy="120.74" r="0.62" fill="#41527a"/>
<circle cx="403.77" cy="112.59" r="0.62" fill="#41527a"/>
<circle cx="411.69" cy="116.04" r="0.62" fill="#41527a"/>
<circle cx="401.22" cy="120.50" r="0.62" fill="#41527a"/>
<circle cx="390.66" cy="115.35" r="0.62" fill="#41527a"/>
<circle cx="400.10" cy="115.83" r="0.62" fill="#41527a"/>
<circle cx="397.26" cy="120.68" r="0.62" fill="#41527a"/>
<circle cx="395.57" cy="118.50" r="0.62" fill="#41527a"/>
<circle cx="390.77" cy="125.57" r="0.62" fill="#41527a"/>
<circle cx="400.91" cy="115.63" r="0.62" fill="#41527a"/>
<circle cx="400.19" cy="120.89" r="0.62" fill="#41527a"/>
<circle cx="396.57" cy="118.24" r="0.62" fill="#41527a"/>
<circle cx="395.40" cy="128.41" r="0.62" fill="#41527a"/>
<circle cx="385.79" cy="119.27" r="0.62" fill="#41527a"/>
<circle cx="393.01" cy="124.39" r="0.62" fill="#41527a"/>
<circle cx="408.32" cy="120.73" r="0.62" fill="#41527a"/>
<circle cx="395.68" cy="121.32" r="0.62" fill="#41527a"/>
<circle cx="384.39" cy="128.81" r="0.62" fill="#41527a"/>
<circle cx="409.48" cy="111.17" r="0.62" fill="#41527a"/>
<circle cx="402.20" cy="122.15" r="0.62" fill="#41527a"/>
<circle cx="416.47" cy="105.75" r="0.62" fill="#41527a"/>
<circle cx="397.97" cy="100.27" r="0.62" fill="#41527a"/>
<circle cx="393.24" cy="128.17" r="0.62" fill="#41527a"/>
<circle cx="384.32" cy="125.22" r="0.62" fill="#41527a"/>
<circle cx="409.38" cy="113.60" r="0.62" fill="#41527a"/>
<circle cx="420.65" cy="104.31" r="0.62" fill="#41527a"/>
<circle cx="391.56" cy="128.52" r="0.62" fill="#41527a"/>
<circle cx="402.80" cy="113.58" r="0.62" fill="#41527a"/>
<circle cx="389.90" cy="123.82" r="0.62" fill="#41527a"/>
<circle cx="394.96" cy="112.24" r="0.62" fill="#41527a"/>
<circle cx="394.24" cy="124.64" r="0.62" fill="#41527a"/>
<circle cx="399.14" cy="117.22" r="0.62" fill="#41527a"/>
<circle cx="407.31" cy="98.34" r="0.62" fill="#41527a"/>
<circle cx="397.61" cy="122.94" r="0.62" fill="#41527a"/>
<circle cx="405.72" cy="118.82" r="0.62" fill="#41527a"/>
<circle cx="393.61" cy="121.59" r="0.62" fill="#41527a"/>
<circle cx="400.37" cy="117.61" r="0.62" fill="#41527a"/>
<circle cx="384.29" cy="126.30" r="0.62" fill="#41527a"/>
<circle cx="404.61" cy="118.73" r="0.62" fill="#41527a"/>
<circle cx="392.07" cy="121.25" r="0.62" fill="#41527a"/>
<circle cx="402.65" cy="102.52" r="0.62" fill="#41527a"/>
<circle cx="402.31" cy="109.72" r="0.62" fill="#41527a"/>
<circle cx="409.37" cy="126.25" r="0.62" fill="#41527a"/>
<circle cx="404.75" cy="115.50" r="0.62" fill="#41527a"/>
<circle cx="406.61" cy="118.14" r="0.62" fill="#41527a"/>
<circle cx="396.40" cy="116.57" r="0.62" fill="#41527a"/>
<circle cx="391.09" cy="123.80" r="0.62" fill="#41527a"/>
<circle cx="390.79" cy="113.20" r="0.62" fill="#41527a"/>
<circle cx="392.99" cy="117.01" r="0.62" fill="#41527a"/>
<circle cx="387.19" cy="120.68" r="0.62" fill="#41527a"/>
<circle cx="392.46" cy="121.14" r="0.62" fill="#41527a"/>
<circle cx="396.57" cy="119.85" r="0.62" fill="#41527a"/>
<circle cx="399.68" cy="116.05" r="0.62" fill="#41527a"/>
<circle cx="394.34" cy="114.35" r="0.62" fill="#41527a"/>
<circle cx="396.75" cy="121.33" r="0.62" fill="#41527a"/>
<circle cx="399.45" cy="111.41" r="0.62" fill="#41527a"/>
<circle cx="407.22" cy="112.32" r="0.62" fill="#41527a"/>
<circle cx="402.63" cy="116.43" r="0.62" fill="#41527a"/>
<circle cx="391.59" cy="126.66" r="0.62" fill="#41527a"/>
<circle cx="390.86" cy="125.94" r="0.62" fill="#41527a"/>
<circle cx="415.59" cy="111.56" r="0.62" fill="#41527a"/>
<circle cx="404.25" cy="129.35" r="0.62" fill="#41527a"/>
<circle cx="413.97" cy="104.07" r="0.62" fill="#41527a"/>
<circle cx="416.67" cy="104.77" r="0.62" fill="#41527a"/>
<circle cx="390.01" cy="124.65" r="0.62" fill="#41527a"/>
<circle cx="400.89" cy="111.72" r="0.62" fill="#41527a"/>
<circle cx="401.55" cy="114.44" r="0.62" fill="#41527a"/>
<circle cx="402.47" cy="114.23" r="0.62" fill="#41527a"/>
<circle cx="402.31" cy="128.88" r="0.62" fill="#41527a"/>
<circle cx="399.24" cy="119.25" r="0.62" fill="#41527a"/>
<circle cx="398.98" cy="115.49" r="0.62" fill="#41527a"/>
<circle cx="383.82" cy="119.01" r="0.62" fill="#41527a"/>
<circle cx="395.91" cy="110.62" r="0.62" fill="#41527a"/>
<circle cx="390.65" cy="115.88" r="0.62" fill="#41527a"/>
<circle cx="398.55" cy="124.41" r="0.62" fill="#41527a"/>
<circle cx="403.00" cy="112.89" r="0.62" fill="#41527a"/>
<circle cx="404.82" cy="114.59" r="0.62" fill="#41527a"/>
<circle cx="400.20" cy="112.56" r="0.62" fill="#41527a"/>
<circle cx="400.27" cy="118.09" r="0.62" fill="#41527a"/>
<circle cx="398.25" cy="117.52" r="0.62" fill="#41527a"/>
<circle cx="393.36" cy="129.23" r="0.62" fill="#41527a"/>
<circle cx="395.92" cy="117.74" r="0.62" fill="#41527a"/>
<circle cx="392.93" cy="124.09" r="0.62" fill="#41527a"/>
<circle cx="400.92" cy="115.26" r="0.62" fill="#41527a"/>
<circle cx="397.54" cy="116.72" r="0.62" fill="#41527a"/>
<circle cx="402.67" cy="116.61" r="0.62" fill="#41527a"/>
<circle cx="385.39" cy="124.69" r="0.62" fill="#41527a"/>
<circle cx="405.44" cy="114.43" r="0.62" fill="#41527a"/>
<circle cx="390.51" cy="119.37" r="0.62" fill="#41527a"/>
<circle cx="390.77" cy="120.54" r="0.62" fill="#41527a"/>
<circle cx="395.62" cy="123.01" r="0.62" fill="#41527a"/>
<circle cx="392.31" cy="125.19" r="0.62" fill="#41527a"/>
<circle cx="400.04" cy="108.66" r="0.62" fill="#41527a"/>
<circle cx="392.22" cy="122.76" r="0.62" fill="#41527a"/>
<circle cx="437.51" cy="107.08" r="0.62" fill="#41527a"/>
<circle cx="445.97" cy="118.87" r="0.62" fill="#41527a"/>
<circle cx="440.77" cy="99.65" r="0.62" fill="#41527a"/>
<circle cx="424.74" cy="93.10" r="0.62" fill="#41527a"/>
<circle cx="411.88" cy="95.07" r="0.62" fill="#41527a"/>
<circle cx="445.71" cy="97.38" r="0.62" fill="#41527a"/>
<circle cx="437.00" cy="120.61" r="0.62" fill="#41527a"/>
<circle cx="431.68" cy="113.08" r="0.62" fill="#41527a"/>
<circle cx="436.39" cy="109.97" r="0.62" fill="#41527a"/>
<circle cx="423.13" cy="114.56" r="0.62" fill="#41527a"/>
<circle cx="421.26" cy="94.57" r="0.62" fill="#41527a"/>
<circle cx="431.64" cy="103.69" r="0.62" fill="#41527a"/>
<circle cx="427.49" cy="105.72" r="0.62" fill="#41527a"/>
<circle cx="437.60" cy="100.74" r="0.62" fill="#41527a"/>
<circle cx="447.75" cy="114.73" r="0.62" fill="#41527a"/>
<circle cx="443.78" cy="114.31" r="0.62" fill="#41527a"/>
<circle cx="423.24" cy="114.05" r="0.62" fill="#41527a"/>
<circle cx="422.57" cy="100.64" r="0.62" fill="#41527a"/>
<circle cx="447.34" cy="102.16" r="0.62" fill="#41527a"/>
<circle cx="423.55" cy="99.86" r="0.62" fill="#41527a"/>
<circle cx="441.68" cy="95.00" r="0.62" fill="#41527a"/>
<circle cx="410.06" cy="118.67" r="0.62" fill="#41527a"/>
<circle cx="426.08" cy="110.93" r="0.62" fill="#41527a"/>
<circle cx="428.99" cy="104.05" r="0.62" fill="#41527a"/>
<circle cx="442.07" cy="118.59" r="0.62" fill="#41527a"/>
<circle cx="445.14" cy="110.65" r="0.62" fill="#41527a"/>
<circle cx="412.74" cy="95.62" r="0.62" fill="#41527a"/>
<circle cx="433.50" cy="94.76" r="0.62" fill="#41527a"/>
<circle cx="434.03" cy="95.02" r="0.62" fill="#41527a"/>
<circle cx="412.69" cy="105.06" r="0.62" fill="#41527a"/>
<circle cx="443.17" cy="107.54" r="0.62" fill="#41527a"/>
<circle cx="430.65" cy="94.99" r="0.62" fill="#41527a"/>
<circle cx="448.90" cy="109.10" r="0.62" fill="#41527a"/>
<circle cx="414.25" cy="102.19" r="0.62" fill="#41527a"/>
<circle cx="429.38" cy="92.60" r="0.62" fill="#41527a"/>
<circle cx="420.37" cy="109.05" r="0.62" fill="#41527a"/>
<circle cx="434.63" cy="111.41" r="0.62" fill="#41527a"/>
<circle cx="433.09" cy="105.57" r="0.62" fill="#41527a"/>
<circle cx="428.82" cy="99.66" r="0.62" fill="#41527a"/>
<circle cx="420.44" cy="100.79" r="0.62" fill="#41527a"/>
<circle cx="428.44" cy="103.96" r="0.62" fill="#41527a"/>
<circle cx="422.56" cy="100.07" r="0.62" fill="#41527a"/>
<circle cx="445.73" cy="121.02" r="0.62" fill="#41527a"/>
<circle cx="426.54" cy="113.83" r="0.62" fill="#41527a"/>
<circle cx="427.16" cy="103.89" r="0.62" fill="#41527a"/>
<circle cx="417.47" cy="114.50" r="0.62" fill="#41527a"/>
<circle cx="417.26" cy="118.52" r="0.62" fill="#41527a"/>
<circle cx="448.55" cy="117.22" r="0.62" fill="#41527a"/>
<circle cx="419.95" cy="114.40" r="0.62" fill="#41527a"/>
<circle cx="444.72" cy="107.21" r="0.62" fill="#41527a"/>
<circle cx="432.50" cy="115.42" r="0.62" fill="#41527a"/>
<circle cx="449.74" cy="103.20" r="0.62" fill="#41527a"/>
<circle cx="448.00" cy="106.91" r="0.62" fill="#41527a"/>
<circle cx="440.44" cy="93.09" r="0.62" fill="#41527a"/>
<circle cx="431.30" cy="102.68" r="0.62" fill="#41527a"/>
<circle cx="437.60" cy="116.36" r="0.62" fill="#41527a"/>
<circle cx="438.20" cy="107.97" r="0.62" fill="#41527a"/>
<circle cx="425.96" cy="115.02" r="0.62" fill="#41527a"/>
<circle cx="434.27" cy="98.02" r="0.62" fill="#41527a"/>
<circle cx="416.13" cy="116.69" r="0.62" fill="#41527a"/>
<circle cx="436.15" cy="99.86" r="0.62" fill="#41527a"/>
<circle cx="427.12" cy="125.13" r="0.62" fill="#41527a"/>
<circle cx="446.39" cy="97.86" r="0.62" fill="#41527a"/>
<circle cx="417.72" cy="90.39" r="0.62" fill="#41527a"/>
<circle cx="442.47" cy="113.16" r="0.62" fill="#41527a"/>
<circle cx="450.00" cy="95.90" r="0.62" fill="#41527a"/>
<circle cx="446.05" cy="122.96" r="0.62" fill="#41527a"/>
<circle cx="449.02" cy="103.03" r="0.62" fill="#41527a"/>
<circle cx="413.03" cy="121.63" r="0.62" fill="#41527a"/>
<circle cx="413.30" cy="100.79" r="0.62" fill="#41527a"/>
<circle cx="416.12" cy="122.86" r="0.62" fill="#41527a"/>
<circle cx="411.08" cy="101.63" r="0.62" fill="#41527a"/>
<circle cx="406.75" cy="111.27" r="0.62" fill="#41527a"/>
<circle cx="447.63" cy="97.41" r="0.62" fill="#41527a"/>
<circle cx="422.06" cy="104.40" r="0.62" fill="#41527a"/>
<circle cx="433.90" cy="108.62" r="0.62" fill="#41527a"/>
<circle cx="426.23" cy="99.50" r="0.62" fill="#41527a"/>
<circle cx="439.13" cy="89.52" r="0.62" fill="#41527a"/>
<circle cx="441.94" cy="117.48" r="0.62" fill="#41527a"/>
<circle cx="423.04" cy="100.00" r="0.62" fill="#41527a"/>
<circle cx="429.84" cy="102.12" r="0.62" fill="#41527a"/>
<circle cx="410.28" cy="119.32" r="0.62" fill="#41527a"/>
<circle cx="418.68" cy="89.79" r="0.62" fill="#41527a"/>
<circle cx="419.71" cy="114.74" r="0.62" fill="#41527a"/>
<circle cx="420.42" cy="88.59" r="0.62" fill="#41527a"/>
<circle cx="431.62" cy="104.93" r="0.62" fill="#41527a"/>
<circle cx="420.79" cy="107.07" r="0.62" fill="#41527a"/>
<circle cx="420.53" cy="90.87" r="0.62" fill="#41527a"/>
<circle cx="443.07" cy="103.27" r="0.62" fill="#41527a"/>
<circle cx="406.46" cy="102.34" r="0.62" fill="#41527a"/>
<circle cx="444.60" cy="96.80" r="0.62" fill="#41527a"/>
<circle cx="434.24" cy="119.09" r="0.62" fill="#41527a"/>
<circle cx="438.45" cy="120.76" r="0.62" fill="#41527a"/>
<circle cx="448.72" cy="94.53" r="0.62" fill="#41527a"/>
<circle cx="415.66" cy="114.49" r="0.62" fill="#41527a"/>
<circle cx="447.03" cy="104.04" r="0.62" fill="#41527a"/>
<circle cx="416.76" cy="115.92" r="0.62" fill="#41527a"/>
<circle cx="429.11" cy="107.26" r="0.62" fill="#41527a"/>
<circle cx="436.36" cy="117.91" r="0.62" fill="#41527a"/>
<circle cx="441.55" cy="89.64" r="0.62" fill="#41527a"/>
<circle cx="417.01" cy="115.38" r="0.62" fill="#41527a"/>
<circle cx="427.24" cy="106.66" r="0.62" fill="#41527a"/>
<circle cx="407.96" cy="107.31" r="0.62" fill="#41527a"/>
<circle cx="418.78" cy="93.76" r="0.62" fill="#41527a"/>
<circle cx="449.76" cy="119.28" r="0.62" fill="#41527a"/>
<circle cx="446.37" cy="105.80" r="0.62" fill="#41527a"/>
<circle cx="431.93" cy="107.51" r="0.62" fill="#41527a"/>
<circle cx="441.07" cy="100.33" r="0.62" fill="#41527a"/>
<circle cx="446.24" cy="100.89" r="0.62" fill="#41527a"/>
<circle cx="420.75" cy="109.99" r="0.62" fill="#41527a"/>
<circle cx="449.74" cy="103.15" r="0.62" fill="#41527a"/>
<circle cx="425.96" cy="109.12" r="0.62" fill="#41527a"/>
<circle cx="413.02" cy="100.93" r="0.62" fill="#41527a"/>
<circle cx="429.61" cy="106.48" r="0.62" fill="#41527a"/>
<circle cx="432.45" cy="111.85" r="0.62" fill="#41527a"/>
<circle cx="436.88" cy="105.75" r="0.62" fill="#41527a"/>
<circle cx="435.90" cy="101.94" r="0.62" fill="#41527a"/>
<circle cx="434.48" cy="110.25" r="0.62" fill="#41527a"/>
<circle cx="447.11" cy="102.50" r="0.62" fill="#41527a"/>
<circle cx="435.87" cy="91.26" r="0.62" fill="#41527a"/>
<circle cx="449.50" cy="125.68" r="0.62" fill="#41527a"/>
<circle cx="428.78" cy="122.42" r="0.62" fill="#41527a"/>
<circle cx="442.13" cy="117.03" r="0.62" fill="#41527a"/>
<circle cx="412.19" cy="106.59" r="0.62" fill="#41527a"/>
<circle cx="425.42" cy="101.68" r="0.62" fill="#41527a"/>
<circle cx="445.10" cy="93.74" r="0.62" fill="#41527a"/>
<circle cx="420.26" cy="107.64" r="0.62" fill="#41527a"/>
<circle cx="437.71" cy="95.58" r="0.62" fill="#41527a"/>
<circle cx="433.62" cy="103.68" r="0.62" fill="#41527a"/>
<circle cx="459.64" cy="112.77" r="0.62" fill="#c8102e"/>
<circle cx="473.52" cy="117.67" r="0.62" fill="#c8102e"/>
<circle cx="473.62" cy="91.90" r="0.62" fill="#c8102e"/>
<circle cx="475.44" cy="130.41" r="0.62" fill="#c8102e"/>
<circle cx="462.71" cy="116.48" r="0.62" fill="#c8102e"/>
<circle cx="460.73" cy="105.29" r="0.62" fill="#c8102e"/>
<circle cx="471.95" cy="108.36" r="0.62" fill="#c8102e"/>
<circle cx="460.81" cy="106.26" r="0.62" fill="#c8102e"/>
<circle cx="472.05" cy="103.98" r="0.62" fill="#c8102e"/>
<circle cx="460.23" cy="98.42" r="0.62" fill="#c8102e"/>
<circle cx="471.74" cy="109.29" r="0.62" fill="#c8102e"/>
<circle cx="464.61" cy="124.04" r="0.62" fill="#c8102e"/>
<circle cx="461.95" cy="110.08" r="0.62" fill="#c8102e"/>
<circle cx="468.47" cy="116.70" r="0.62" fill="#c8102e"/>
<circle cx="456.23" cy="118.77" r="0.62" fill="#c8102e"/>
<circle cx="465.51" cy="109.41" r="0.62" fill="#c8102e"/>
<circle cx="464.82" cy="96.23" r="0.62" fill="#c8102e"/>
<circle cx="471.00" cy="120.63" r="0.62" fill="#c8102e"/>
<circle cx="459.90" cy="120.64" r="0.62" fill="#c8102e"/>
<circle cx="476.94" cy="104.49" r="0.62" fill="#c8102e"/>
<circle cx="465.31" cy="106.52" r="0.62" fill="#c8102e"/>
<circle cx="460.56" cy="90.61" r="0.62" fill="#c8102e"/>
<circle cx="475.06" cy="101.07" r="0.62" fill="#c8102e"/>
<circle cx="476.65" cy="110.06" r="0.62" fill="#c8102e"/>
<circle cx="466.02" cy="116.35" r="0.62" fill="#c8102e"/>
<circle cx="461.98" cy="110.22" r="0.62" fill="#c8102e"/>
<circle cx="467.19" cy="114.61" r="0.62" fill="#c8102e"/>
<circle cx="463.13" cy="128.00" r="0.62" fill="#c8102e"/>
<circle cx="465.31" cy="112.55" r="0.62" fill="#c8102e"/>
<circle cx="476.05" cy="114.61" r="0.62" fill="#c8102e"/>
<circle cx="469.35" cy="115.26" r="0.62" fill="#c8102e"/>
<circle cx="467.94" cy="117.47" r="0.62" fill="#c8102e"/>
<circle cx="469.09" cy="93.62" r="0.62" fill="#c8102e"/>
<circle cx="466.77" cy="104.80" r="0.62" fill="#c8102e"/>
<circle cx="471.94" cy="102.10" r="0.62" fill="#c8102e"/>
<circle cx="472.15" cy="119.48" r="0.62" fill="#c8102e"/>
<circle cx="464.98" cy="124.15" r="0.62" fill="#c8102e"/>
<circle cx="467.70" cy="115.82" r="0.62" fill="#c8102e"/>
<circle cx="469.52" cy="116.53" r="0.62" fill="#c8102e"/>
<circle cx="466.03" cy="114.76" r="0.62" fill="#c8102e"/>
<circle cx="478.88" cy="101.82" r="0.62" fill="#c8102e"/>
<circle cx="467.15" cy="109.27" r="0.62" fill="#c8102e"/>
<circle cx="460.80" cy="123.71" r="0.62" fill="#c8102e"/>
<circle cx="470.98" cy="117.46" r="0.62" fill="#c8102e"/>
<circle cx="461.93" cy="120.04" r="0.62" fill="#c8102e"/>
<circle cx="464.24" cy="110.60" r="0.62" fill="#c8102e"/>
<circle cx="468.97" cy="125.78" r="0.62" fill="#c8102e"/>
<circle cx="466.37" cy="114.65" r="0.62" fill="#c8102e"/>
<circle cx="462.71" cy="104.85" r="0.62" fill="#c8102e"/>
<circle cx="463.93" cy="112.32" r="0.62" fill="#c8102e"/>
<circle cx="463.69" cy="122.92" r="0.62" fill="#c8102e"/>
<circle cx="473.80" cy="119.58" r="0.62" fill="#c8102e"/>
<circle cx="462.96" cy="111.24" r="0.62" fill="#c8102e"/>
<circle cx="463.81" cy="107.20" r="0.62" fill="#c8102e"/>
<circle cx="478.81" cy="103.22" r="0.62" fill="#c8102e"/>
<circle cx="463.92" cy="114.27" r="0.62" fill="#c8102e"/>
<circle cx="475.66" cy="127.46" r="0.62" fill="#c8102e"/>
<circle cx="474.66" cy="96.60" r="0.62" fill="#c8102e"/>
<circle cx="466.22" cy="109.29" r="0.62" fill="#c8102e"/>
<circle cx="458.94" cy="108.07" r="0.62" fill="#c8102e"/>
<circle cx="469.70" cy="109.20" r="0.62" fill="#c8102e"/>
<circle cx="470.96" cy="124.31" r="0.62" fill="#c8102e"/>
<circle cx="472.66" cy="116.23" r="0.62" fill="#c8102e"/>
<circle cx="467.51" cy="109.75" r="0.62" fill="#c8102e"/>
<circle cx="474.02" cy="101.02" r="0.62" fill="#c8102e"/>
<circle cx="475.09" cy="111.96" r="0.62" fill="#c8102e"/>
<circle cx="475.31" cy="115.36" r="0.62" fill="#c8102e"/>
<circle cx="468.10" cy="108.67" r="0.62" fill="#c8102e"/>
<circle cx="463.85" cy="98.08" r="0.62" fill="#c8102e"/>
<circle cx="465.27" cy="104.64" r="0.62" fill="#c8102e"/>
<circle cx="477.89" cy="84.62" r="0.62" fill="#c8102e"/>
<circle cx="472.75" cy="96.61" r="0.62" fill="#c8102e"/>
<circle cx="456.82" cy="97.47" r="0.62" fill="#c8102e"/>
<circle cx="467.58" cy="102.03" r="0.62" fill="#c8102e"/>
<circle cx="466.30" cy="128.20" r="0.62" fill="#c8102e"/>
<circle cx="466.09" cy="103.11" r="0.62" fill="#c8102e"/>
<circle cx="464.15" cy="105.89" r="0.62" fill="#c8102e"/>
<circle cx="458.73" cy="118.56" r="0.62" fill="#c8102e"/>
<circle cx="472.05" cy="106.04" r="0.62" fill="#c8102e"/>
<circle cx="461.70" cy="107.94" r="0.62" fill="#c8102e"/>
<circle cx="464.97" cy="117.87" r="0.62" fill="#c8102e"/>
<circle cx="463.64" cy="114.03" r="0.62" fill="#c8102e"/>
<circle cx="462.92" cy="115.60" r="0.62" fill="#c8102e"/>
<circle cx="471.37" cy="110.05" r="0.62" fill="#c8102e"/>
<circle cx="469.31" cy="117.42" r="0.62" fill="#c8102e"/>
<circle cx="463.23" cy="106.51" r="0.62" fill="#c8102e"/>
<circle cx="464.40" cy="115.81" r="0.62" fill="#c8102e"/>
<circle cx="472.66" cy="131.60" r="0.62" fill="#c8102e"/>
<circle cx="467.82" cy="118.07" r="0.62" fill="#c8102e"/>
<circle cx="468.44" cy="106.82" r="0.62" fill="#c8102e"/>
<circle cx="465.21" cy="112.40" r="0.62" fill="#c8102e"/>
<circle cx="465.62" cy="113.88" r="0.62" fill="#c8102e"/>
<circle cx="468.34" cy="111.87" r="0.62" fill="#c8102e"/>
<circle cx="456.51" cy="94.98" r="0.62" fill="#c8102e"/>
<circle cx="476.36" cy="125.09" r="0.62" fill="#c8102e"/>
<circle cx="462.57" cy="102.65" r="0.62" fill="#c8102e"/>
<circle cx="463.83" cy="129.66" r="0.62" fill="#c8102e"/>
<circle cx="474.79" cy="117.90" r="0.62" fill="#c8102e"/>
<circle cx="468.38" cy="110.80" r="0.62" fill="#c8102e"/>
<circle cx="467.34" cy="122.22" r="0.62" fill="#c8102e"/>
<circle cx="463.75" cy="110.33" r="0.62" fill="#c8102e"/>
<circle cx="458.13" cy="104.44" r="0.62" fill="#c8102e"/>
<circle cx="468.16" cy="126.07" r="0.62" fill="#c8102e"/>
<circle cx="473.97" cy="113.51" r="0.62" fill="#c8102e"/>
<circle cx="461.93" cy="116.88" r="0.62" fill="#c8102e"/>
<circle cx="460.62" cy="114.75" r="0.62" fill="#c8102e"/>
<circle cx="462.88" cy="121.62" r="0.62" fill="#c8102e"/>
<circle cx="470.01" cy="97.57" r="0.62" fill="#c8102e"/>
<circle cx="467.10" cy="122.49" r="0.62" fill="#c8102e"/>
<circle cx="471.07" cy="93.52" r="0.62" fill="#c8102e"/>
<circle cx="462.84" cy="118.64" r="0.62" fill="#c8102e"/>
<circle cx="461.17" cy="90.83" r="0.62" fill="#c8102e"/>
<circle cx="456.37" cy="106.57" r="0.62" fill="#c8102e"/>
<circle cx="460.18" cy="107.53" r="0.62" fill="#c8102e"/>
<circle cx="460.92" cy="103.57" r="0.62" fill="#c8102e"/>
<circle cx="458.90" cy="102.49" r="0.62" fill="#c8102e"/>
<circle cx="468.87" cy="96.85" r="0.62" fill="#c8102e"/>
<circle cx="463.29" cy="93.14" r="0.62" fill="#c8102e"/>
<circle cx="455.68" cy="116.54" r="0.62" fill="#c8102e"/>
<circle cx="459.89" cy="117.00" r="0.62" fill="#c8102e"/>
<circle cx="474.22" cy="104.08" r="0.62" fill="#c8102e"/>
<circle cx="473.80" cy="108.38" r="0.62" fill="#c8102e"/>
<circle cx="460.48" cy="111.34" r="0.62" fill="#c8102e"/>
<circle cx="458.63" cy="116.58" r="0.62" fill="#c8102e"/>
<circle cx="461.35" cy="119.84" r="0.62" fill="#c8102e"/>
<circle cx="473.59" cy="115.83" r="0.62" fill="#c8102e"/>
<circle cx="465.31" cy="108.26" r="0.62" fill="#c8102e"/>
<circle cx="466.94" cy="104.44" r="0.62" fill="#c8102e"/>
<circle cx="474.02" cy="129.05" r="0.62" fill="#c8102e"/>
<circle cx="459.12" cy="114.42" r="0.62" fill="#c8102e"/>
<circle cx="464.89" cy="119.78" r="0.62" fill="#c8102e"/>
<circle cx="459.15" cy="116.80" r="0.62" fill="#c8102e"/>
<circle cx="479.58" cy="124.43" r="0.62" fill="#c8102e"/>
<circle cx="477.55" cy="125.65" r="0.62" fill="#c8102e"/>
<circle cx="472.56" cy="115.27" r="0.62" fill="#c8102e"/>
<circle cx="466.33" cy="124.88" r="0.62" fill="#c8102e"/>
<circle cx="470.89" cy="85.01" r="0.62" fill="#c8102e"/>
<circle cx="455.02" cy="117.38" r="0.62" fill="#c8102e"/>
<circle cx="468.69" cy="120.09" r="0.62" fill="#c8102e"/>
<circle cx="459.42" cy="118.89" r="0.62" fill="#c8102e"/>
<circle cx="459.49" cy="124.77" r="0.62" fill="#c8102e"/>
<circle cx="465.09" cy="115.59" r="0.62" fill="#c8102e"/>
<circle cx="470.40" cy="109.22" r="0.62" fill="#c8102e"/>
<circle cx="471.13" cy="129.64" r="0.62" fill="#c8102e"/>
<circle cx="468.61" cy="112.66" r="0.62" fill="#c8102e"/>
<circle cx="461.67" cy="126.33" r="0.62" fill="#c8102e"/>
<circle cx="470.98" cy="113.12" r="0.62" fill="#c8102e"/>
<circle cx="466.41" cy="108.68" r="0.62" fill="#c8102e"/>
<circle cx="473.88" cy="107.26" r="0.62" fill="#c8102e"/>
<circle cx="461.83" cy="107.83" r="0.62" fill="#c8102e"/>
<circle cx="464.36" cy="102.82" r="0.62" fill="#c8102e"/>
<circle cx="479.46" cy="117.77" r="0.62" fill="#c8102e"/>
<circle cx="469.79" cy="108.79" r="0.62" fill="#c8102e"/>
<circle cx="465.98" cy="104.80" r="0.62" fill="#c8102e"/>
<circle cx="472.18" cy="116.16" r="0.62" fill="#c8102e"/>
<circle cx="469.99" cy="127.19" r="0.62" fill="#c8102e"/>
<circle cx="469.75" cy="105.83" r="0.62" fill="#c8102e"/>
<circle cx="464.15" cy="125.31" r="0.62" fill="#c8102e"/>
<circle cx="467.54" cy="122.76" r="0.62" fill="#c8102e"/>
<circle cx="468.26" cy="125.15" r="0.62" fill="#c8102e"/>
<circle cx="463.41" cy="103.26" r="0.62" fill="#c8102e"/>
<circle cx="460.67" cy="114.58" r="0.62" fill="#c8102e"/>
<circle cx="472.66" cy="104.47" r="0.62" fill="#c8102e"/>
<circle cx="470.82" cy="89.44" r="0.62" fill="#c8102e"/>
<circle cx="469.94" cy="92.49" r="0.62" fill="#c8102e"/>
<circle cx="470.00" cy="119.13" r="0.62" fill="#c8102e"/>
<circle cx="468.59" cy="107.02" r="0.62" fill="#c8102e"/>
<circle cx="473.09" cy="102.69" r="0.62" fill="#c8102e"/>
<circle cx="478.34" cy="112.36" r="0.62" fill="#c8102e"/>
<circle cx="467.40" cy="125.07" r="0.62" fill="#c8102e"/>
<circle cx="468.62" cy="104.26" r="0.62" fill="#c8102e"/>
<circle cx="473.10" cy="105.83" r="0.62" fill="#c8102e"/>
<circle cx="476.80" cy="127.73" r="0.62" fill="#c8102e"/>
<circle cx="468.90" cy="116.89" r="0.62" fill="#c8102e"/>
<circle cx="469.19" cy="109.73" r="0.62" fill="#c8102e"/>
<circle cx="467.62" cy="112.79" r="0.62" fill="#c8102e"/>
<circle cx="460.17" cy="106.86" r="0.62" fill="#c8102e"/>
<circle cx="473.52" cy="103.81" r="0.62" fill="#c8102e"/>
<circle cx="465.65" cy="106.67" r="0.62" fill="#c8102e"/>
<circle cx="457.22" cy="114.06" r="0.62" fill="#c8102e"/>
<circle cx="466.27" cy="127.95" r="0.62" fill="#c8102e"/>
<circle cx="457.18" cy="105.84" r="0.62" fill="#c8102e"/>
<circle cx="461.33" cy="97.00" r="0.62" fill="#c8102e"/>
<circle cx="467.22" cy="90.54" r="0.62" fill="#c8102e"/>
<circle cx="461.83" cy="113.15" r="0.62" fill="#c8102e"/>
<circle cx="473.28" cy="113.18" r="0.62" fill="#c8102e"/>
<circle cx="458.69" cy="96.50" r="0.62" fill="#c8102e"/>
<circle cx="468.65" cy="96.59" r="0.62" fill="#c8102e"/>
<circle cx="470.34" cy="108.95" r="0.62" fill="#c8102e"/>
<circle cx="475.53" cy="104.76" r="0.62" fill="#c8102e"/>
<circle cx="472.44" cy="121.35" r="0.62" fill="#c8102e"/>
<circle cx="468.49" cy="106.21" r="0.62" fill="#c8102e"/>
<circle cx="467.61" cy="122.09" r="0.62" fill="#c8102e"/>
<circle cx="466.81" cy="114.43" r="0.62" fill="#c8102e"/>
<circle cx="473.69" cy="114.18" r="0.62" fill="#c8102e"/>
<circle cx="463.38" cy="118.07" r="0.62" fill="#c8102e"/>
<circle cx="466.62" cy="122.10" r="0.62" fill="#c8102e"/>
<circle cx="468.54" cy="109.05" r="0.62" fill="#c8102e"/>
<circle cx="465.65" cy="113.48" r="0.62" fill="#c8102e"/>
<circle cx="479.43" cy="117.23" r="0.62" fill="#c8102e"/>
<circle cx="463.38" cy="107.97" r="0.62" fill="#c8102e"/>
<circle cx="468.62" cy="105.05" r="0.62" fill="#c8102e"/>
<circle cx="468.75" cy="103.26" r="0.62" fill="#c8102e"/>
<circle cx="470.66" cy="121.89" r="0.62" fill="#c8102e"/>
<circle cx="469.75" cy="112.57" r="0.62" fill="#c8102e"/>
<circle cx="469.61" cy="116.58" r="0.62" fill="#c8102e"/>
<circle cx="472.81" cy="122.70" r="0.62" fill="#c8102e"/>
<circle cx="458.52" cy="129.66" r="0.62" fill="#c8102e"/>
<circle cx="467.22" cy="113.93" r="0.62" fill="#c8102e"/>
<circle cx="460.08" cy="122.65" r="0.62" fill="#c8102e"/>
<circle cx="468.51" cy="88.59" r="0.62" fill="#c8102e"/>
<circle cx="460.37" cy="113.94" r="0.62" fill="#c8102e"/>
<circle cx="461.65" cy="115.35" r="0.62" fill="#c8102e"/>
<circle cx="466.82" cy="117.30" r="0.62" fill="#c8102e"/>
<circle cx="475.19" cy="91.72" r="0.62" fill="#c8102e"/>
<circle cx="470.49" cy="123.43" r="0.62" fill="#c8102e"/>
<circle cx="468.88" cy="114.64" r="0.62" fill="#c8102e"/>
<circle cx="475.24" cy="121.49" r="0.62" fill="#c8102e"/>
<circle cx="461.74" cy="114.23" r="0.62" fill="#c8102e"/>
<circle cx="455.15" cy="113.23" r="0.62" fill="#c8102e"/>
<circle cx="464.74" cy="100.46" r="0.62" fill="#c8102e"/>
<circle cx="465.58" cy="128.76" r="0.62" fill="#c8102e"/>
<circle cx="474.27" cy="113.06" r="0.62" fill="#c8102e"/>
<circle cx="479.47" cy="94.64" r="0.62" fill="#c8102e"/>
<circle cx="459.54" cy="118.57" r="0.62" fill="#c8102e"/>
<circle cx="476.17" cy="122.81" r="0.62" fill="#c8102e"/>
<circle cx="469.29" cy="114.01" r="0.62" fill="#c8102e"/>
<circle cx="467.64" cy="118.09" r="0.62" fill="#c8102e"/>
<circle cx="467.98" cy="109.83" r="0.62" fill="#c8102e"/>
<circle cx="459.31" cy="111.94" r="0.62" fill="#c8102e"/>
<circle cx="469.89" cy="101.57" r="0.62" fill="#c8102e"/>
<circle cx="466.55" cy="102.58" r="0.62" fill="#c8102e"/>
<circle cx="469.08" cy="115.87" r="0.62" fill="#c8102e"/>
<circle cx="469.25" cy="108.33" r="0.62" fill="#c8102e"/>
<circle cx="474.74" cy="100.30" r="0.62" fill="#c8102e"/>
<circle cx="461.35" cy="110.74" r="0.62" fill="#c8102e"/>
<circle cx="472.28" cy="100.62" r="0.62" fill="#c8102e"/>
<circle cx="458.03" cy="100.87" r="0.62" fill="#c8102e"/>
<circle cx="469.32" cy="116.06" r="0.62" fill="#c8102e"/>
<circle cx="462.47" cy="114.51" r="0.62" fill="#c8102e"/>
<circle cx="467.43" cy="122.68" r="0.62" fill="#c8102e"/>
<circle cx="454.64" cy="114.32" r="0.62" fill="#c8102e"/>
<circle cx="460.78" cy="111.10" r="0.62" fill="#c8102e"/>
<circle cx="467.58" cy="125.05" r="0.62" fill="#c8102e"/>
<circle cx="470.77" cy="104.82" r="0.62" fill="#c8102e"/>
<circle cx="458.75" cy="111.72" r="0.62" fill="#c8102e"/>
<circle cx="454.98" cy="107.73" r="0.62" fill="#c8102e"/>
<circle cx="462.18" cy="121.49" r="0.62" fill="#c8102e"/>
<circle cx="463.55" cy="104.08" r="0.62" fill="#c8102e"/>
<circle cx="462.54" cy="105.96" r="0.62" fill="#c8102e"/>
<circle cx="472.08" cy="114.07" r="0.62" fill="#c8102e"/>
<circle cx="472.74" cy="117.57" r="0.62" fill="#c8102e"/>
<circle cx="471.45" cy="115.95" r="0.62" fill="#c8102e"/>
<circle cx="461.80" cy="114.37" r="0.62" fill="#c8102e"/>
<circle cx="467.63" cy="118.56" r="0.62" fill="#c8102e"/>
<circle cx="458.99" cy="104.01" r="0.62" fill="#c8102e"/>
<circle cx="472.26" cy="129.65" r="0.62" fill="#c8102e"/>
<circle cx="467.69" cy="116.58" r="0.62" fill="#c8102e"/>
<circle cx="464.40" cy="116.28" r="0.62" fill="#c8102e"/>
<circle cx="475.33" cy="109.89" r="0.62" fill="#c8102e"/>
<circle cx="471.58" cy="130.98" r="0.62" fill="#c8102e"/>
<circle cx="472.11" cy="99.24" r="0.62" fill="#c8102e"/>
<circle cx="474.08" cy="105.44" r="0.62" fill="#c8102e"/>
<circle cx="471.31" cy="104.15" r="0.62" fill="#c8102e"/>
<circle cx="459.92" cy="98.54" r="0.62" fill="#c8102e"/>
<circle cx="464.95" cy="121.78" r="0.62" fill="#c8102e"/>
<circle cx="462.77" cy="109.04" r="0.62" fill="#c8102e"/>
<circle cx="467.40" cy="98.00" r="0.62" fill="#c8102e"/>
<circle cx="469.47" cy="99.68" r="0.62" fill="#c8102e"/>
<circle cx="475.47" cy="118.78" r="0.62" fill="#c8102e"/>
<circle cx="474.65" cy="113.77" r="0.62" fill="#c8102e"/>
<circle cx="472.34" cy="109.52" r="0.62" fill="#c8102e"/>
<circle cx="472.44" cy="120.23" r="0.62" fill="#c8102e"/>
<circle cx="470.21" cy="119.88" r="0.62" fill="#c8102e"/>
<circle cx="466.25" cy="94.89" r="0.62" fill="#c8102e"/>
<circle cx="474.98" cy="120.04" r="0.62" fill="#c8102e"/>
<circle cx="470.02" cy="95.02" r="0.62" fill="#c8102e"/>
<circle cx="462.83" cy="112.54" r="0.62" fill="#c8102e"/>
<circle cx="474.45" cy="131.55" r="0.62" fill="#c8102e"/>
<circle cx="465.71" cy="87.72" r="0.62" fill="#c8102e"/>
<circle cx="470.58" cy="123.60" r="0.62" fill="#c8102e"/>
<circle cx="458.41" cy="105.70" r="0.62" fill="#c8102e"/>
<circle cx="467.06" cy="93.45" r="0.62" fill="#c8102e"/>
<circle cx="461.73" cy="118.66" r="0.62" fill="#c8102e"/>
<circle cx="461.58" cy="126.49" r="0.62" fill="#c8102e"/>
<circle cx="456.19" cy="100.93" r="0.62" fill="#c8102e"/>
<circle cx="479.48" cy="111.90" r="0.62" fill="#c8102e"/>
<circle cx="466.30" cy="126.45" r="0.62" fill="#c8102e"/>
<circle cx="468.53" cy="124.81" r="0.62" fill="#c8102e"/>
<circle cx="473.53" cy="117.02" r="0.62" fill="#c8102e"/>
<circle cx="466.46" cy="101.79" r="0.62" fill="#c8102e"/>
<circle cx="470.11" cy="115.87" r="0.62" fill="#c8102e"/>
<circle cx="459.35" cy="105.27" r="0.62" fill="#c8102e"/>
<circle cx="468.28" cy="94.04" r="0.62" fill="#c8102e"/>
<circle cx="464.78" cy="98.36" r="0.62" fill="#c8102e"/>
<circle cx="470.03" cy="96.46" r="0.62" fill="#c8102e"/>
<circle cx="468.19" cy="98.78" r="0.62" fill="#c8102e"/>
<circle cx="459.19" cy="130.74" r="0.62" fill="#c8102e"/>
<circle cx="456.51" cy="98.88" r="0.62" fill="#c8102e"/>
<circle cx="461.32" cy="108.94" r="0.62" fill="#c8102e"/>
<circle cx="471.39" cy="114.04" r="0.62" fill="#c8102e"/>
<circle cx="469.59" cy="124.85" r="0.62" fill="#c8102e"/>
<circle cx="469.46" cy="130.52" r="0.62" fill="#c8102e"/>
<circle cx="455.54" cy="125.14" r="0.62" fill="#c8102e"/>
<circle cx="463.56" cy="125.86" r="0.62" fill="#c8102e"/>
<circle cx="465.23" cy="121.83" r="0.62" fill="#c8102e"/>
<circle cx="463.67" cy="119.58" r="0.62" fill="#c8102e"/>
<circle cx="469.17" cy="105.14" r="0.62" fill="#c8102e"/>
<circle cx="466.15" cy="115.96" r="0.62" fill="#c8102e"/>
<circle cx="460.32" cy="114.28" r="0.62" fill="#c8102e"/>
<circle cx="462.08" cy="97.72" r="0.62" fill="#c8102e"/>
<circle cx="467.95" cy="116.25" r="0.62" fill="#c8102e"/>
<circle cx="467.54" cy="105.90" r="0.62" fill="#c8102e"/>
<circle cx="466.70" cy="124.54" r="0.62" fill="#c8102e"/>
<circle cx="480.15" cy="108.94" r="0.62" fill="#c8102e"/>
<circle cx="465.61" cy="111.30" r="0.62" fill="#c8102e"/>
<circle cx="467.81" cy="110.67" r="0.62" fill="#c8102e"/>
<circle cx="461.40" cy="117.89" r="0.62" fill="#c8102e"/>
<circle cx="465.05" cy="124.24" r="0.62" fill="#c8102e"/>
<circle cx="470.13" cy="116.01" r="0.62" fill="#c8102e"/>
<circle cx="470.37" cy="117.91" r="0.62" fill="#c8102e"/>
<circle cx="466.21" cy="101.01" r="0.62" fill="#c8102e"/>
<circle cx="469.38" cy="102.42" r="0.62" fill="#c8102e"/>
<circle cx="467.43" cy="126.17" r="0.62" fill="#c8102e"/>
<circle cx="456.30" cy="105.58" r="0.62" fill="#c8102e"/>
<circle cx="480.38" cy="107.48" r="0.62" fill="#c8102e"/>
<circle cx="471.87" cy="118.06" r="0.62" fill="#c8102e"/>
<circle cx="466.77" cy="129.20" r="0.62" fill="#c8102e"/>
<circle cx="457.11" cy="101.20" r="0.62" fill="#c8102e"/>
<circle cx="459.77" cy="107.55" r="0.62" fill="#c8102e"/>
<circle cx="474.89" cy="126.43" r="0.62" fill="#c8102e"/>
<circle cx="465.24" cy="118.65" r="0.62" fill="#c8102e"/>
<circle cx="472.09" cy="125.94" r="0.62" fill="#c8102e"/>
<circle cx="467.92" cy="116.74" r="0.62" fill="#c8102e"/>
<circle cx="471.44" cy="105.66" r="0.62" fill="#c8102e"/>
<circle cx="466.35" cy="96.11" r="0.62" fill="#c8102e"/>
<circle cx="480.85" cy="116.66" r="0.62" fill="#c8102e"/>
<circle cx="461.19" cy="97.14" r="0.62" fill="#c8102e"/>
<circle cx="459.27" cy="99.54" r="0.62" fill="#c8102e"/>
<circle cx="468.68" cy="117.53" r="0.62" fill="#c8102e"/>
<circle cx="475.31" cy="131.40" r="0.62" fill="#c8102e"/>
<circle cx="466.78" cy="103.03" r="0.62" fill="#c8102e"/>
<circle cx="473.13" cy="105.77" r="0.62" fill="#c8102e"/>
<circle cx="464.05" cy="86.14" r="0.62" fill="#c8102e"/>
<circle cx="460.29" cy="96.53" r="0.62" fill="#c8102e"/>
<circle cx="475.14" cy="103.81" r="0.62" fill="#c8102e"/>
<circle cx="476.11" cy="93.61" r="0.62" fill="#c8102e"/>
<circle cx="475.91" cy="124.40" r="0.62" fill="#c8102e"/>
<circle cx="464.58" cy="110.42" r="0.62" fill="#c8102e"/>
<circle cx="460.46" cy="115.67" r="0.62" fill="#c8102e"/>
<circle cx="460.38" cy="92.98" r="0.62" fill="#c8102e"/>
<circle cx="465.81" cy="106.23" r="0.62" fill="#c8102e"/>
<circle cx="470.03" cy="97.15" r="0.62" fill="#c8102e"/>
<circle cx="458.86" cy="122.77" r="0.62" fill="#c8102e"/>
<circle cx="468.22" cy="103.81" r="0.62" fill="#c8102e"/>
<circle cx="467.20" cy="117.93" r="0.62" fill="#c8102e"/>
<circle cx="467.62" cy="109.78" r="0.62" fill="#c8102e"/>
<circle cx="466.96" cy="105.37" r="0.62" fill="#c8102e"/>
<circle cx="465.94" cy="110.33" r="0.62" fill="#c8102e"/>
<circle cx="470.51" cy="123.24" r="0.62" fill="#c8102e"/>
<circle cx="467.83" cy="96.75" r="0.62" fill="#c8102e"/>
<circle cx="468.40" cy="108.02" r="0.62" fill="#c8102e"/>
<circle cx="463.13" cy="112.67" r="0.62" fill="#c8102e"/>
<circle cx="469.37" cy="104.53" r="0.62" fill="#c8102e"/>
<circle cx="466.40" cy="118.50" r="0.62" fill="#c8102e"/>
<circle cx="454.95" cy="91.24" r="0.62" fill="#c8102e"/>
<circle cx="469.88" cy="109.93" r="0.62" fill="#c8102e"/>
<circle cx="465.58" cy="108.34" r="0.62" fill="#c8102e"/>
<circle cx="472.42" cy="108.54" r="0.62" fill="#c8102e"/>
<circle cx="466.17" cy="122.72" r="0.62" fill="#c8102e"/>
<circle cx="466.55" cy="125.66" r="0.62" fill="#c8102e"/>
<circle cx="468.32" cy="109.99" r="0.62" fill="#c8102e"/>
<circle cx="468.68" cy="113.20" r="0.62" fill="#c8102e"/>
<circle cx="472.91" cy="129.01" r="0.62" fill="#c8102e"/>
<circle cx="469.10" cy="119.60" r="0.62" fill="#c8102e"/>
<circle cx="462.54" cy="109.26" r="0.62" fill="#c8102e"/>
<circle cx="469.42" cy="111.15" r="0.62" fill="#c8102e"/>
<circle cx="470.70" cy="128.31" r="0.62" fill="#c8102e"/>
<circle cx="471.45" cy="121.32" r="0.62" fill="#c8102e"/>
<circle cx="468.60" cy="125.33" r="0.62" fill="#c8102e"/>
<circle cx="461.98" cy="124.42" r="0.62" fill="#c8102e"/>
<circle cx="472.13" cy="122.08" r="0.62" fill="#c8102e"/>
<circle cx="464.07" cy="106.84" r="0.62" fill="#c8102e"/>
<circle cx="469.62" cy="117.32" r="0.62" fill="#c8102e"/>
<circle cx="460.49" cy="119.53" r="0.62" fill="#c8102e"/>
<circle cx="470.44" cy="120.20" r="0.62" fill="#c8102e"/>
<circle cx="463.84" cy="114.06" r="0.62" fill="#c8102e"/>
<circle cx="471.79" cy="113.90" r="0.62" fill="#c8102e"/>
<circle cx="474.69" cy="123.79" r="0.62" fill="#c8102e"/>
<circle cx="472.16" cy="109.14" r="0.62" fill="#c8102e"/>
<circle cx="462.21" cy="124.79" r="0.62" fill="#c8102e"/>
<circle cx="463.16" cy="119.85" r="0.62" fill="#c8102e"/>
<circle cx="463.47" cy="115.39" r="0.62" fill="#c8102e"/>
<circle cx="470.00" cy="107.65" r="0.62" fill="#c8102e"/>
<circle cx="468.65" cy="120.28" r="0.62" fill="#c8102e"/>
<circle cx="467.85" cy="116.40" r="0.62" fill="#c8102e"/>
<circle cx="468.49" cy="110.16" r="0.62" fill="#c8102e"/>
<circle cx="469.64" cy="114.33" r="0.62" fill="#c8102e"/>
<circle cx="469.94" cy="111.24" r="0.62" fill="#c8102e"/>
<circle cx="474.36" cy="111.78" r="0.62" fill="#c8102e"/>
<circle cx="466.93" cy="116.56" r="0.62" fill="#c8102e"/>
<circle cx="468.03" cy="114.28" r="0.62" fill="#c8102e"/>
<circle cx="459.27" cy="112.53" r="0.62" fill="#c8102e"/>
<circle cx="461.53" cy="118.32" r="0.62" fill="#c8102e"/>
<circle cx="464.21" cy="108.35" r="0.62" fill="#c8102e"/>
<circle cx="462.11" cy="130.34" r="0.62" fill="#c8102e"/>
<circle cx="468.09" cy="123.80" r="0.62" fill="#c8102e"/>
<circle cx="471.58" cy="109.29" r="0.62" fill="#c8102e"/>
<circle cx="465.29" cy="115.53" r="0.62" fill="#c8102e"/>
<circle cx="465.08" cy="122.11" r="0.62" fill="#c8102e"/>
<circle cx="464.96" cy="115.83" r="0.62" fill="#c8102e"/>
<circle cx="467.69" cy="111.48" r="0.62" fill="#c8102e"/>
<circle cx="464.81" cy="121.58" r="0.62" fill="#c8102e"/>
<circle cx="468.95" cy="113.44" r="0.62" fill="#c8102e"/>
<circle cx="468.41" cy="118.90" r="0.62" fill="#c8102e"/>
<circle cx="468.59" cy="118.85" r="0.62" fill="#c8102e"/>
<circle cx="470.37" cy="118.57" r="0.62" fill="#c8102e"/>
<circle cx="467.25" cy="111.33" r="0.62" fill="#c8102e"/>
<circle cx="467.73" cy="125.02" r="0.62" fill="#c8102e"/>
<circle cx="474.60" cy="120.40" r="0.62" fill="#c8102e"/>
<circle cx="466.92" cy="114.08" r="0.62" fill="#c8102e"/>
<circle cx="470.51" cy="125.63" r="0.62" fill="#c8102e"/>
<circle cx="467.34" cy="127.85" r="0.62" fill="#c8102e"/>
<circle cx="465.15" cy="114.65" r="0.62" fill="#c8102e"/>
<circle cx="465.16" cy="118.14" r="0.62" fill="#c8102e"/>
<circle cx="463.61" cy="119.05" r="0.62" fill="#c8102e"/>
<circle cx="467.15" cy="117.27" r="0.62" fill="#c8102e"/>
<circle cx="464.53" cy="124.11" r="0.62" fill="#c8102e"/>
<circle cx="465.30" cy="100.27" r="0.62" fill="#c8102e"/>
<circle cx="472.29" cy="124.18" r="0.62" fill="#c8102e"/>
<circle cx="466.53" cy="120.82" r="0.62" fill="#c8102e"/>
<circle cx="471.95" cy="126.87" r="0.62" fill="#c8102e"/>
<circle cx="468.22" cy="120.70" r="0.62" fill="#c8102e"/>
<circle cx="470.76" cy="108.78" r="0.62" fill="#c8102e"/>
<circle cx="464.49" cy="118.03" r="0.62" fill="#c8102e"/>
<circle cx="467.72" cy="114.49" r="0.62" fill="#c8102e"/>
<circle cx="478.31" cy="121.11" r="0.62" fill="#c8102e"/>
<circle cx="470.61" cy="107.02" r="0.62" fill="#c8102e"/>
<circle cx="471.36" cy="117.14" r="0.62" fill="#c8102e"/>
<circle cx="468.08" cy="125.81" r="0.62" fill="#c8102e"/>
<circle cx="470.73" cy="113.42" r="0.62" fill="#c8102e"/>
<circle cx="462.14" cy="120.41" r="0.62" fill="#c8102e"/>
<circle cx="463.46" cy="114.42" r="0.62" fill="#c8102e"/>
<circle cx="468.90" cy="117.29" r="0.62" fill="#c8102e"/>
<circle cx="470.57" cy="116.53" r="0.62" fill="#c8102e"/>
<circle cx="465.33" cy="117.31" r="0.62" fill="#c8102e"/>
<circle cx="466.28" cy="123.70" r="0.62" fill="#c8102e"/>
<circle cx="465.53" cy="127.36" r="0.62" fill="#c8102e"/>
<circle cx="466.27" cy="112.16" r="0.62" fill="#c8102e"/>
<circle cx="461.96" cy="118.98" r="0.62" fill="#c8102e"/>
<circle cx="460.97" cy="116.39" r="0.62" fill="#c8102e"/>
<circle cx="466.71" cy="120.99" r="0.62" fill="#c8102e"/>
<circle cx="459.66" cy="130.56" r="0.62" fill="#c8102e"/>
<circle cx="462.89" cy="125.98" r="0.62" fill="#c8102e"/>
<circle cx="464.24" cy="109.58" r="0.62" fill="#c8102e"/>
<circle cx="462.57" cy="122.97" r="0.62" fill="#c8102e"/>
<circle cx="468.06" cy="120.50" r="0.62" fill="#c8102e"/>
<circle cx="465.14" cy="127.16" r="0.62" fill="#c8102e"/>
<circle cx="466.69" cy="121.39" r="0.62" fill="#c8102e"/>
<circle cx="462.73" cy="120.44" r="0.62" fill="#c8102e"/>
<circle cx="463.86" cy="119.52" r="0.62" fill="#c8102e"/>
<circle cx="469.20" cy="118.61" r="0.62" fill="#c8102e"/>
<circle cx="468.56" cy="122.03" r="0.62" fill="#c8102e"/>
<circle cx="465.03" cy="121.69" r="0.62" fill="#c8102e"/>
<circle cx="468.55" cy="118.25" r="0.62" fill="#c8102e"/>
<circle cx="467.80" cy="116.18" r="0.62" fill="#c8102e"/>
<circle cx="467.67" cy="119.04" r="0.62" fill="#c8102e"/>
<circle cx="473.78" cy="107.47" r="0.62" fill="#c8102e"/>
<circle cx="465.28" cy="116.91" r="0.62" fill="#c8102e"/>
<circle cx="468.77" cy="117.18" r="0.62" fill="#c8102e"/>
<circle cx="468.78" cy="122.20" r="0.62" fill="#c8102e"/>
<circle cx="465.98" cy="111.87" r="0.62" fill="#c8102e"/>
<circle cx="462.02" cy="124.46" r="0.62" fill="#c8102e"/>
<circle cx="469.91" cy="128.11" r="0.62" fill="#c8102e"/>
<circle cx="468.08" cy="124.16" r="0.62" fill="#c8102e"/>
<circle cx="467.17" cy="114.38" r="0.62" fill="#c8102e"/>
<circle cx="467.06" cy="125.21" r="0.62" fill="#c8102e"/>
<circle cx="467.04" cy="110.24" r="0.62" fill="#c8102e"/>
<circle cx="463.14" cy="118.32" r="0.62" fill="#c8102e"/>
<circle cx="468.19" cy="127.49" r="0.62" fill="#c8102e"/>
<circle cx="459.26" cy="119.59" r="0.62" fill="#c8102e"/>
<circle cx="466.82" cy="107.24" r="0.62" fill="#c8102e"/>
<circle cx="460.56" cy="123.47" r="0.62" fill="#c8102e"/>
<circle cx="465.42" cy="126.23" r="0.62" fill="#c8102e"/>
<circle cx="469.96" cy="115.05" r="0.62" fill="#c8102e"/>
<circle cx="465.81" cy="110.17" r="0.62" fill="#c8102e"/>
<circle cx="464.86" cy="111.95" r="0.62" fill="#c8102e"/>
<circle cx="469.09" cy="120.21" r="0.62" fill="#c8102e"/>
<circle cx="465.75" cy="117.04" r="0.62" fill="#c8102e"/>
<circle cx="465.16" cy="116.20" r="0.62" fill="#c8102e"/>
<circle cx="465.22" cy="110.99" r="0.62" fill="#c8102e"/>
<circle cx="473.32" cy="105.01" r="0.62" fill="#c8102e"/>
<circle cx="469.71" cy="118.86" r="0.62" fill="#c8102e"/>
<circle cx="468.93" cy="110.22" r="0.62" fill="#c8102e"/>
<circle cx="461.81" cy="120.31" r="0.62" fill="#c8102e"/>
<circle cx="469.51" cy="114.58" r="0.62" fill="#c8102e"/>
<circle cx="461.37" cy="123.92" r="0.62" fill="#c8102e"/>
<circle cx="468.91" cy="122.88" r="0.62" fill="#c8102e"/>
<circle cx="462.11" cy="115.65" r="0.62" fill="#c8102e"/>
<circle cx="475.17" cy="123.70" r="0.62" fill="#c8102e"/>
<circle cx="459.69" cy="112.75" r="0.62" fill="#c8102e"/>
<circle cx="472.05" cy="121.57" r="0.62" fill="#c8102e"/>
<circle cx="472.44" cy="42.03" r="0.62" fill="#3aa6dc"/>
<circle cx="471.76" cy="39.95" r="0.62" fill="#3aa6dc"/>
<circle cx="470.70" cy="35.40" r="0.62" fill="#3aa6dc"/>
<circle cx="472.67" cy="41.42" r="0.62" fill="#3aa6dc"/>
<circle cx="476.71" cy="46.34" r="0.62" fill="#3aa6dc"/>
<circle cx="467.06" cy="40.02" r="0.62" fill="#3aa6dc"/>
<circle cx="473.39" cy="42.49" r="0.62" fill="#3aa6dc"/>
<circle cx="471.37" cy="42.48" r="0.62" fill="#3aa6dc"/>
<circle cx="468.23" cy="47.16" r="0.62" fill="#3aa6dc"/>
<circle cx="473.33" cy="38.62" r="0.62" fill="#3aa6dc"/>
<circle cx="468.38" cy="39.74" r="0.62" fill="#3aa6dc"/>
<circle cx="471.78" cy="34.52" r="0.62" fill="#3aa6dc"/>
<circle cx="477.39" cy="36.60" r="0.62" fill="#3aa6dc"/>
<circle cx="463.51" cy="37.60" r="0.62" fill="#3aa6dc"/>
<circle cx="473.17" cy="35.93" r="0.62" fill="#3aa6dc"/>
<circle cx="474.02" cy="42.55" r="0.62" fill="#3aa6dc"/>
<circle cx="468.04" cy="43.23" r="0.62" fill="#3aa6dc"/>
<circle cx="474.35" cy="41.53" r="0.62" fill="#3aa6dc"/>
<circle cx="473.61" cy="46.67" r="0.62" fill="#3aa6dc"/>
<circle cx="470.63" cy="41.93" r="0.62" fill="#3aa6dc"/>
<circle cx="477.27" cy="42.72" r="0.62" fill="#3aa6dc"/>
<circle cx="466.55" cy="38.43" r="0.62" fill="#3aa6dc"/>
<circle cx="474.85" cy="41.36" r="0.62" fill="#3aa6dc"/>
<circle cx="471.12" cy="49.50" r="0.62" fill="#3aa6dc"/>
<circle cx="467.62" cy="41.16" r="0.62" fill="#3aa6dc"/>
<circle cx="471.36" cy="35.20" r="0.62" fill="#3aa6dc"/>
<circle cx="470.63" cy="49.17" r="0.62" fill="#3aa6dc"/>
<circle cx="475.60" cy="44.54" r="0.62" fill="#3aa6dc"/>
<circle cx="465.75" cy="41.20" r="0.62" fill="#3aa6dc"/>
<circle cx="471.29" cy="46.97" r="0.62" fill="#3aa6dc"/>
<circle cx="470.18" cy="43.63" r="0.62" fill="#3aa6dc"/>
<circle cx="478.81" cy="41.03" r="0.62" fill="#3aa6dc"/>
<circle cx="467.36" cy="46.93" r="0.62" fill="#3aa6dc"/>
<circle cx="476.62" cy="39.99" r="0.62" fill="#3aa6dc"/>
<circle cx="464.64" cy="39.50" r="0.62" fill="#3aa6dc"/>
<circle cx="473.57" cy="46.70" r="0.62" fill="#3aa6dc"/>
<circle cx="471.53" cy="41.13" r="0.62" fill="#3aa6dc"/>
<circle cx="473.71" cy="36.60" r="0.62" fill="#3aa6dc"/>
<circle cx="469.11" cy="41.99" r="0.62" fill="#3aa6dc"/>
<circle cx="463.79" cy="39.36" r="0.62" fill="#3aa6dc"/>
<circle cx="465.52" cy="38.47" r="0.62" fill="#3aa6dc"/>
<circle cx="477.67" cy="42.24" r="0.62" fill="#3aa6dc"/>
<circle cx="472.99" cy="37.00" r="0.62" fill="#3aa6dc"/>
<circle cx="468.40" cy="39.57" r="0.62" fill="#3aa6dc"/>
<circle cx="475.91" cy="45.47" r="0.62" fill="#3aa6dc"/>
<circle cx="468.90" cy="38.97" r="0.62" fill="#3aa6dc"/>
<circle cx="468.92" cy="37.49" r="0.62" fill="#3aa6dc"/>
<circle cx="466.90" cy="37.74" r="0.62" fill="#3aa6dc"/>
<circle cx="477.07" cy="43.96" r="0.62" fill="#3aa6dc"/>
<circle cx="480.41" cy="39.22" r="0.62" fill="#3aa6dc"/>
<circle cx="467.95" cy="35.29" r="0.62" fill="#3aa6dc"/>
<circle cx="473.28" cy="40.19" r="0.62" fill="#3aa6dc"/>
<circle cx="476.21" cy="36.09" r="0.62" fill="#3aa6dc"/>
<circle cx="481.05" cy="35.59" r="0.62" fill="#3aa6dc"/>
<circle cx="461.84" cy="41.33" r="0.62" fill="#3aa6dc"/>
<circle cx="472.64" cy="38.33" r="0.62" fill="#3aa6dc"/>
<circle cx="474.78" cy="42.41" r="0.62" fill="#3aa6dc"/>
<circle cx="465.74" cy="36.57" r="0.62" fill="#3aa6dc"/>
<circle cx="473.77" cy="41.54" r="0.62" fill="#3aa6dc"/>
<circle cx="472.87" cy="43.51" r="0.62" fill="#3aa6dc"/>
<circle cx="475.11" cy="41.26" r="0.62" fill="#3aa6dc"/>
<circle cx="469.55" cy="41.46" r="0.62" fill="#3aa6dc"/>
<circle cx="473.80" cy="39.50" r="0.62" fill="#3aa6dc"/>
<circle cx="469.45" cy="39.14" r="0.62" fill="#3aa6dc"/>
<circle cx="474.60" cy="46.14" r="0.62" fill="#3aa6dc"/>
<circle cx="472.69" cy="43.93" r="0.62" fill="#3aa6dc"/>
<circle cx="470.41" cy="39.59" r="0.62" fill="#3aa6dc"/>
<circle cx="465.99" cy="39.06" r="0.62" fill="#3aa6dc"/>
<circle cx="479.03" cy="40.76" r="0.62" fill="#3aa6dc"/>
<circle cx="475.76" cy="36.31" r="0.62" fill="#3aa6dc"/>
<circle cx="469.19" cy="41.44" r="0.62" fill="#3aa6dc"/>
<circle cx="470.52" cy="37.97" r="0.62" fill="#3aa6dc"/>
<circle cx="479.12" cy="35.35" r="0.62" fill="#3aa6dc"/>
<circle cx="475.18" cy="39.52" r="0.62" fill="#3aa6dc"/>
<circle cx="468.39" cy="48.58" r="0.62" fill="#3aa6dc"/>
<circle cx="472.21" cy="40.66" r="0.62" fill="#3aa6dc"/>
<circle cx="472.62" cy="40.85" r="0.62" fill="#3aa6dc"/>
<circle cx="471.17" cy="31.90" r="0.62" fill="#3aa6dc"/>
<circle cx="468.01" cy="48.95" r="0.62" fill="#3aa6dc"/>
<circle cx="477.36" cy="34.41" r="0.62" fill="#3aa6dc"/>
<circle cx="474.54" cy="41.72" r="0.62" fill="#3aa6dc"/>
<circle cx="471.19" cy="37.04" r="0.62" fill="#3aa6dc"/>
<circle cx="465.34" cy="42.29" r="0.62" fill="#3aa6dc"/>
<circle cx="469.55" cy="40.28" r="0.62" fill="#3aa6dc"/>
<circle cx="472.02" cy="36.16" r="0.62" fill="#3aa6dc"/>
<circle cx="475.74" cy="40.66" r="0.62" fill="#3aa6dc"/>
<circle cx="470.47" cy="36.48" r="0.62" fill="#3aa6dc"/>
<circle cx="476.77" cy="41.36" r="0.62" fill="#3aa6dc"/>
<circle cx="472.65" cy="42.77" r="0.62" fill="#3aa6dc"/>
<circle cx="468.89" cy="41.94" r="0.62" fill="#3aa6dc"/>
<circle cx="460.18" cy="43.16" r="0.62" fill="#3aa6dc"/>
<circle cx="467.07" cy="41.51" r="0.62" fill="#3aa6dc"/>
<circle cx="465.72" cy="35.14" r="0.62" fill="#3aa6dc"/>
<circle cx="462.44" cy="70.72" r="0.62" fill="#3aa6dc"/>
<circle cx="459.57" cy="66.53" r="0.62" fill="#3aa6dc"/>
<circle cx="469.19" cy="57.77" r="0.62" fill="#3aa6dc"/>
<circle cx="479.16" cy="48.00" r="0.62" fill="#3aa6dc"/>
<circle cx="475.43" cy="54.23" r="0.62" fill="#3aa6dc"/>
<circle cx="477.05" cy="71.13" r="0.62" fill="#3aa6dc"/>
<circle cx="476.63" cy="75.85" r="0.62" fill="#3aa6dc"/>
<circle cx="465.05" cy="67.79" r="0.62" fill="#3aa6dc"/>
<circle cx="470.02" cy="61.61" r="0.62" fill="#3aa6dc"/>
<circle cx="453.76" cy="69.51" r="0.62" fill="#3aa6dc"/>
<circle cx="465.77" cy="53.62" r="0.62" fill="#3aa6dc"/>
<circle cx="472.89" cy="69.98" r="0.62" fill="#3aa6dc"/>
<circle cx="460.23" cy="74.06" r="0.62" fill="#3aa6dc"/>
<circle cx="457.29" cy="59.37" r="0.62" fill="#3aa6dc"/>
<circle cx="461.75" cy="54.53" r="0.62" fill="#3aa6dc"/>
<circle cx="470.64" cy="71.57" r="0.62" fill="#3aa6dc"/>
<circle cx="476.20" cy="67.61" r="0.62" fill="#3aa6dc"/>
<circle cx="477.76" cy="76.97" r="0.62" fill="#3aa6dc"/>
<circle cx="460.53" cy="56.90" r="0.62" fill="#3aa6dc"/>
<circle cx="455.83" cy="76.30" r="0.62" fill="#3aa6dc"/>
<circle cx="470.29" cy="59.08" r="0.62" fill="#3aa6dc"/>
<circle cx="475.63" cy="58.61" r="0.62" fill="#3aa6dc"/>
<circle cx="459.97" cy="61.59" r="0.62" fill="#3aa6dc"/>
<circle cx="466.39" cy="76.55" r="0.62" fill="#3aa6dc"/>
<circle cx="466.83" cy="76.71" r="0.62" fill="#3aa6dc"/>
<circle cx="469.68" cy="62.05" r="0.62" fill="#3aa6dc"/>
<circle cx="468.44" cy="62.80" r="0.62" fill="#3aa6dc"/>
<circle cx="472.52" cy="77.38" r="0.62" fill="#3aa6dc"/>
<circle cx="475.71" cy="77.53" r="0.62" fill="#3aa6dc"/>
<circle cx="469.95" cy="54.12" r="0.62" fill="#3aa6dc"/>
<circle cx="473.93" cy="67.90" r="0.62" fill="#3aa6dc"/>
<circle cx="481.21" cy="55.86" r="0.62" fill="#3aa6dc"/>
<circle cx="463.58" cy="71.76" r="0.62" fill="#3aa6dc"/>
<circle cx="463.44" cy="69.71" r="0.62" fill="#3aa6dc"/>
<circle cx="472.56" cy="50.29" r="0.62" fill="#3aa6dc"/>
<circle cx="480.43" cy="71.79" r="0.62" fill="#3aa6dc"/>
<circle cx="470.58" cy="65.33" r="0.62" fill="#3aa6dc"/>
<circle cx="476.01" cy="62.55" r="0.62" fill="#3aa6dc"/>
<circle cx="467.82" cy="56.01" r="0.62" fill="#3aa6dc"/>
<circle cx="474.99" cy="68.01" r="0.62" fill="#3aa6dc"/>
<circle cx="465.97" cy="57.93" r="0.62" fill="#3aa6dc"/>
<circle cx="473.60" cy="71.04" r="0.62" fill="#3aa6dc"/>
<circle cx="471.97" cy="56.95" r="0.62" fill="#3aa6dc"/>
<circle cx="471.98" cy="77.21" r="0.62" fill="#3aa6dc"/>
<circle cx="477.74" cy="72.12" r="0.62" fill="#3aa6dc"/>
<circle cx="475.95" cy="75.99" r="0.62" fill="#3aa6dc"/>
<circle cx="466.21" cy="74.73" r="0.62" fill="#3aa6dc"/>
<circle cx="474.90" cy="54.90" r="0.62" fill="#3aa6dc"/>
<circle cx="459.79" cy="63.62" r="0.62" fill="#3aa6dc"/>
<circle cx="385.70" cy="40.01" r="0.62" fill="#41527a"/>
<circle cx="410.71" cy="42.05" r="0.62" fill="#41527a"/>
<circle cx="410.50" cy="53.31" r="0.62" fill="#41527a"/>
<circle cx="425.07" cy="76.84" r="0.62" fill="#41527a"/>
<circle cx="447.42" cy="72.74" r="0.62" fill="#41527a"/>
<circle cx="439.97" cy="78.37" r="0.62" fill="#41527a"/>
</g>
<rect x="372.50" y="27.50" width="118.00" height="109.10" fill="none" stroke="#1a1a1a" stroke-width="1.1" />
<line x1="452.00" y1="27.50" x2="452.00" y2="136.60" stroke="#1a1a1a" stroke-width="1.0" />
<line x1="372.50" y1="79.40" x2="490.50" y2="79.40" stroke="#1a1a1a" stroke-width="1.05" />
<text x="375.00" y="36.90" font-size="6.8" text-anchor="start" fill="#222" textLength="7.4" lengthAdjust="spacingAndGlyphs" stroke="#222" stroke-width="0.1">Q1</text>
<text x="375.20" y="89.30" font-size="6.8" text-anchor="start" fill="#222" textLength="7.4" lengthAdjust="spacingAndGlyphs" stroke="#222" stroke-width="0.1">Q2</text>
<text x="479.80" y="88.00" font-size="6.8" text-anchor="start" fill="#222" textLength="7.6" lengthAdjust="spacingAndGlyphs" stroke="#222" stroke-width="0.1">Q3</text>
<text x="453.50" y="35.00" font-size="6.8" text-anchor="start" fill="#222" textLength="7.4" lengthAdjust="spacingAndGlyphs" stroke="#222" stroke-width="0.1">Q4</text>
<line x1="369.50" y1="133.10" x2="372.50" y2="133.10" stroke="#2a2a2a" stroke-width="0.8" />
<text x="367.20" y="135.30" font-size="6.1" text-anchor="end" fill="#333" stroke="#333" stroke-width="0.1">0</text>
<line x1="374.00" y1="136.60" x2="374.00" y2="139.60" stroke="#2a2a2a" stroke-width="0.8" />
<text x="374.00" y="147.90" font-size="6.1" text-anchor="middle" fill="#333" stroke="#333" stroke-width="0.1">0</text>
<line x1="369.50" y1="107.52" x2="372.50" y2="107.52" stroke="#2a2a2a" stroke-width="0.8" />
<text x="367.20" y="109.72" font-size="6.1" text-anchor="end" fill="#333" stroke="#333" stroke-width="0.1">25</text>
<line x1="400.60" y1="136.60" x2="400.60" y2="139.60" stroke="#2a2a2a" stroke-width="0.8" />
<text x="400.60" y="147.90" font-size="6.1" text-anchor="middle" fill="#333" stroke="#333" stroke-width="0.1">25</text>
<line x1="369.50" y1="81.95" x2="372.50" y2="81.95" stroke="#2a2a2a" stroke-width="0.8" />
<text x="367.20" y="84.15" font-size="6.1" text-anchor="end" fill="#333" stroke="#333" stroke-width="0.1">50</text>
<line x1="427.20" y1="136.60" x2="427.20" y2="139.60" stroke="#2a2a2a" stroke-width="0.8" />
<text x="427.20" y="147.90" font-size="6.1" text-anchor="middle" fill="#333" stroke="#333" stroke-width="0.1">50</text>
<line x1="369.50" y1="56.38" x2="372.50" y2="56.38" stroke="#2a2a2a" stroke-width="0.8" />
<text x="367.20" y="58.58" font-size="6.1" text-anchor="end" fill="#333" stroke="#333" stroke-width="0.1">75</text>
<line x1="453.80" y1="136.60" x2="453.80" y2="139.60" stroke="#2a2a2a" stroke-width="0.8" />
<text x="453.80" y="147.90" font-size="6.1" text-anchor="middle" fill="#333" stroke="#333" stroke-width="0.1">75</text>
<line x1="369.50" y1="30.80" x2="372.50" y2="30.80" stroke="#2a2a2a" stroke-width="0.8" />
<text x="367.20" y="33.00" font-size="6.1" text-anchor="end" fill="#333" stroke="#333" stroke-width="0.1">100</text>
<line x1="480.40" y1="136.60" x2="480.40" y2="139.60" stroke="#2a2a2a" stroke-width="0.8" />
<text x="480.40" y="147.90" font-size="6.1" text-anchor="middle" fill="#333" stroke="#333" stroke-width="0.1">100</text>
<text x="431.30" y="160.20" font-size="7.5" text-anchor="middle" fill="#222" textLength="59.3" lengthAdjust="spacingAndGlyphs" stroke="#222" stroke-width="0.22">Max. agg. (EPI 0.5 &#181;M)</text>
<text x="0" y="0" font-size="7.5" text-anchor="middle" fill="#222" stroke="#222" stroke-width="0.22" textLength="60.4" lengthAdjust="spacingAndGlyphs" transform="translate(352.2,82.1) rotate(-90)">Max. agg. (ADP 0.5 &#181;M)</text>
<text x="14.20" y="217.20" font-size="6.2" text-anchor="start" fill="#111" stroke="#111" stroke-width="0.1">LTA</text>
<text x="16.90" y="223.04" font-size="4.9" text-anchor="start" fill="#111" stroke="#111" stroke-width="0.12">Max. agg. (no trigger)</text>
<text x="16.90" y="229.03" font-size="4.9" text-anchor="start" fill="#111" stroke="#111" stroke-width="0.12">Velocity agg. (no trigger)</text>
<text x="16.90" y="235.01" font-size="4.9" text-anchor="start" fill="#111" stroke="#111" stroke-width="0.12">Max. agg. (ADP 0.5uM)</text>
<text x="16.90" y="241.00" font-size="4.9" text-anchor="start" fill="#111" stroke="#111" stroke-width="0.12">Velocity agg. (ADP 0.5uM)</text>
<text x="16.90" y="246.99" font-size="4.9" text-anchor="start" fill="#111" stroke="#111" stroke-width="0.12">Max. agg. (ADP 2uM)</text>
<text x="16.90" y="252.98" font-size="4.9" text-anchor="start" fill="#111" stroke="#111" stroke-width="0.12">Velocity agg. (ADP 2uM)</text>
<text x="16.90" y="258.97" font-size="4.9" text-anchor="start" fill="#111" stroke="#111" stroke-width="0.12">Max. agg. (EPI 0.5uM)</text>
<text x="16.90" y="264.95" font-size="4.9" text-anchor="start" fill="#111" stroke="#111" stroke-width="0.12">Velocity agg. (EPI 0.5uM)</text>
<text x="16.90" y="270.94" font-size="4.9" text-anchor="start" fill="#111" stroke="#111" stroke-width="0.12">Max. agg. (EPI 5uM)</text>
<text x="16.90" y="276.93" font-size="4.9" text-anchor="start" fill="#111" stroke="#111" stroke-width="0.12">Velocity agg. (EPI 5uM)</text>
<text x="16.90" y="282.92" font-size="4.9" text-anchor="start" fill="#111" stroke="#111" stroke-width="0.12">Max. agg. (Collagen 2ug/ml)</text>
<text x="16.90" y="288.91" font-size="4.9" text-anchor="start" fill="#111" stroke="#111" stroke-width="0.12">Velocity agg. (Collagen 2ug/ml)</text>
<text x="16.90" y="294.89" font-size="4.9" text-anchor="start" fill="#111" stroke="#111" stroke-width="0.12">Max. agg. (Arachidonic acid 1mM)</text>
<text x="16.90" y="300.88" font-size="4.9" text-anchor="start" fill="#111" stroke="#111" stroke-width="0.12">Velocity agg. (Arachidonic acid 1mM)</text>
<text x="16.90" y="306.87" font-size="4.9" text-anchor="start" fill="#111" stroke="#111" stroke-width="0.12">Max. agg. (TRAP-6 10uM)</text>
<text x="16.90" y="312.86" font-size="4.9" text-anchor="start" fill="#111" stroke="#111" stroke-width="0.12">Velocity agg. (TRAP-6 10uM)</text>
<text x="14.20" y="324.98" font-size="6.2" text-anchor="start" fill="#111" stroke="#111" stroke-width="0.1">PFA</text>
<text x="16.90" y="330.82" font-size="4.9" text-anchor="start" fill="#111" stroke="#111" stroke-width="0.12">Collagen/ADP (s)</text>
<text x="16.90" y="336.81" font-size="4.9" text-anchor="start" fill="#111" stroke="#111" stroke-width="0.12">Collagen/EPI (s)</text>
<text x="14.20" y="348.94" font-size="6.2" text-anchor="start" fill="#111" stroke="#111" stroke-width="0.1">CAT</text>
<text x="16.90" y="354.77" font-size="4.9" text-anchor="start" fill="#111" stroke="#111" stroke-width="0.12">Lag time (min)</text>
<text x="16.90" y="360.76" font-size="4.9" text-anchor="start" fill="#111" stroke="#111" stroke-width="0.12">ETP (nM*min)</text>
<text x="16.90" y="366.75" font-size="4.9" text-anchor="start" fill="#111" stroke="#111" stroke-width="0.12">Peak heigh (nM)</text>
<text x="16.90" y="372.74" font-size="4.9" text-anchor="start" fill="#111" stroke="#111" stroke-width="0.12">Time to Peak (min)</text>
<text x="14.20" y="384.86" font-size="6.2" text-anchor="start" fill="#111" stroke="#111" stroke-width="0.1">FACS</text>
<text x="16.90" y="390.70" font-size="4.9" text-anchor="start" fill="#111" stroke="#111" stroke-width="0.12">P-selectin [% of platelets]</text>
<text x="16.90" y="396.69" font-size="4.9" text-anchor="start" fill="#111" stroke="#111" stroke-width="0.12">CD63 [% of platelets]</text>
<text x="16.90" y="402.68" font-size="4.9" text-anchor="start" fill="#111" stroke="#111" stroke-width="0.12">Fibrinogen [% of platelets]</text>
<text x="16.90" y="408.67" font-size="4.9" text-anchor="start" fill="#111" stroke="#111" stroke-width="0.12">Tissue Factor [% of platelets]</text>
<text x="16.90" y="414.65" font-size="4.9" text-anchor="start" fill="#111" stroke="#111" stroke-width="0.12">Annexin V [% of platelets]</text>
<text x="16.90" y="420.64" font-size="4.9" text-anchor="start" fill="#111" stroke="#111" stroke-width="0.12">PAC-1 [MFI]</text>
<rect x="101.50" y="218.49" width="128.20" height="5.80" fill="#c8c8cc" stroke="none" stroke-width="0" />
<rect x="101.50" y="230.46" width="128.20" height="5.80" fill="#c8c8cc" stroke="none" stroke-width="0" />
<rect x="101.50" y="242.44" width="128.20" height="5.80" fill="#c8c8cc" stroke="none" stroke-width="0" />
<rect x="101.50" y="254.42" width="128.20" height="5.80" fill="#c8c8cc" stroke="none" stroke-width="0" />
<rect x="101.50" y="266.39" width="128.20" height="5.80" fill="#c8c8cc" stroke="none" stroke-width="0" />
<rect x="101.50" y="278.37" width="128.20" height="5.80" fill="#c8c8cc" stroke="none" stroke-width="0" />
<rect x="101.50" y="290.34" width="128.20" height="5.80" fill="#c8c8cc" stroke="none" stroke-width="0" />
<rect x="101.50" y="302.32" width="128.20" height="5.80" fill="#c8c8cc" stroke="none" stroke-width="0" />
<rect x="101.50" y="314.30" width="128.20" height="5.80" fill="#c8c8cc" stroke="none" stroke-width="0" />
<rect x="101.50" y="326.27" width="128.20" height="5.80" fill="#c8c8cc" stroke="none" stroke-width="0" />
<rect x="101.50" y="338.25" width="128.20" height="5.80" fill="#c8c8cc" stroke="none" stroke-width="0" />
<rect x="101.50" y="350.22" width="128.20" height="5.80" fill="#c8c8cc" stroke="none" stroke-width="0" />
<rect x="101.50" y="362.20" width="128.20" height="5.80" fill="#c8c8cc" stroke="none" stroke-width="0" />
<rect x="101.50" y="374.18" width="128.20" height="5.80" fill="#c8c8cc" stroke="none" stroke-width="0" />
<rect x="101.50" y="386.15" width="128.20" height="5.80" fill="#c8c8cc" stroke="none" stroke-width="0" />
<rect x="101.50" y="398.13" width="128.20" height="5.80" fill="#c8c8cc" stroke="none" stroke-width="0" />
<rect x="101.50" y="410.10" width="128.20" height="5.80" fill="#c8c8cc" stroke="none" stroke-width="0" />
<rect x="101.50" y="422.08" width="128.20" height="5.80" fill="#c8c8cc" stroke="none" stroke-width="0" />
<line x1="149.50" y1="199.70" x2="149.50" y2="216.50" stroke="#8a8a8a" stroke-width="0.7" />
<line x1="149.50" y1="217.00" x2="149.50" y2="439.50" stroke="#2a2a2a" stroke-width="0.9" stroke-dasharray="1 1"/>
<text x="150.20" y="196.70" font-size="6.2" text-anchor="middle" fill="#222" stroke="#222" stroke-width="0.1">ADP &#177; epi</text>
<line x1="157.14" y1="221.19" x2="162.16" y2="221.19" stroke="#c00f3a" stroke-width="1.1" />
<path d="M158.01,221.19 L159.61,219.84 L161.21,221.19 L159.61,222.54 Z" fill="#7d0a1e"/>
<text x="240.10" y="223.19" font-size="5.0" text-anchor="start" fill="#1a1a1a" stroke="#1a1a1a" stroke-width="0.1">1.32</text>
<text x="256.90" y="223.19" font-size="5.0" text-anchor="start" fill="#1a1a1a" stroke="#1a1a1a" stroke-width="0.1">[1.23-1.42]</text>
<text x="286.60" y="223.19" font-size="5.0" text-anchor="start" fill="#1a1a1a" stroke="#1a1a1a" stroke-width="0.1">&lt; .0001</text>
<line x1="151.27" y1="227.18" x2="157.98" y2="227.18" stroke="#c00f3a" stroke-width="1.1" />
<path d="M152.88,227.18 L154.48,225.83 L156.08,227.18 L154.48,228.53 Z" fill="#7d0a1e"/>
<text x="240.10" y="229.18" font-size="5.0" text-anchor="start" fill="#1a1a1a" stroke="#1a1a1a" stroke-width="0.1">1.14</text>
<text x="256.90" y="229.18" font-size="5.0" text-anchor="start" fill="#1a1a1a" stroke="#1a1a1a" stroke-width="0.1">[1.04-1.26]</text>
<text x="286.60" y="229.18" font-size="5.0" text-anchor="start" fill="#1a1a1a" stroke="#1a1a1a" stroke-width="0.1">.0053</text>
<line x1="203.78" y1="233.16" x2="212.54" y2="233.16" stroke="#c00f3a" stroke-width="1.1" />
<path d="M206.54,233.16 L208.14,231.81 L209.74,233.16 L208.14,234.51 Z" fill="#7d0a1e"/>
<text x="240.10" y="235.16" font-size="5.0" text-anchor="start" fill="#1a1a1a" stroke="#1a1a1a" stroke-width="0.1">5.29</text>
<text x="256.90" y="235.16" font-size="5.0" text-anchor="start" fill="#1a1a1a" stroke="#1a1a1a" stroke-width="0.1">[4.67-6.00]</text>
<text x="286.60" y="235.16" font-size="5.0" text-anchor="start" fill="#1a1a1a" stroke="#1a1a1a" stroke-width="0.1">&lt; .0001</text>
<line x1="167.19" y1="239.15" x2="178.87" y2="239.15" stroke="#c00f3a" stroke-width="1.1" />
<path d="M171.47,239.15 L173.07,237.80 L174.67,239.15 L173.07,240.50 Z" fill="#7d0a1e"/>
<text x="240.10" y="241.15" font-size="5.0" text-anchor="start" fill="#1a1a1a" stroke="#1a1a1a" stroke-width="0.1">1.94</text>
<text x="256.90" y="241.15" font-size="5.0" text-anchor="start" fill="#1a1a1a" stroke="#1a1a1a" stroke-width="0.1">[1.64-2.29]</text>
<text x="286.60" y="241.15" font-size="5.0" text-anchor="start" fill="#1a1a1a" stroke="#1a1a1a" stroke-width="0.1">&lt; .0001</text>
<line x1="206.03" y1="245.14" x2="235.30" y2="245.14" stroke="#c00f3a" stroke-width="1.1" />
<path d="M222.29,245.14 L223.89,243.79 L225.49,245.14 L223.89,246.49 Z" fill="#7d0a1e"/>
<text x="240.10" y="247.14" font-size="5.0" text-anchor="start" fill="#1a1a1a" stroke="#1a1a1a" stroke-width="0.1">8.30</text>
<text x="256.90" y="247.14" font-size="5.0" text-anchor="start" fill="#1a1a1a" stroke="#1a1a1a" stroke-width="0.1">[4.98-13.85]</text>
<text x="286.60" y="247.14" font-size="5.0" text-anchor="start" fill="#1a1a1a" stroke="#1a1a1a" stroke-width="0.1">&lt; .0001</text>
<line x1="158.26" y1="251.13" x2="172.89" y2="251.13" stroke="#c00f3a" stroke-width="1.1" />
<path d="M164.07,251.13 L165.67,249.78 L167.27,251.13 L165.67,252.48 Z" fill="#7d0a1e"/>
<text x="240.10" y="253.13" font-size="5.0" text-anchor="start" fill="#1a1a1a" stroke="#1a1a1a" stroke-width="0.1">1.57</text>
<text x="256.90" y="253.13" font-size="5.0" text-anchor="start" fill="#1a1a1a" stroke="#1a1a1a" stroke-width="0.1">[1.27-1.93]</text>
<text x="286.60" y="253.13" font-size="5.0" text-anchor="start" fill="#1a1a1a" stroke="#1a1a1a" stroke-width="0.1">&lt; .0001</text>
<line x1="181.23" y1="257.12" x2="225.81" y2="257.12" stroke="#c00f3a" stroke-width="1.1" />
<path d="M201.95,257.12 L203.55,255.77 L205.15,257.12 L203.55,258.47 Z" fill="#7d0a1e"/>
<text x="240.10" y="259.12" font-size="5.0" text-anchor="start" fill="#1a1a1a" stroke="#1a1a1a" stroke-width="0.1">4.64</text>
<text x="256.90" y="259.12" font-size="5.0" text-anchor="start" fill="#1a1a1a" stroke="#1a1a1a" stroke-width="0.1">[2.45-8.77]</text>
<text x="286.60" y="259.12" font-size="5.0" text-anchor="start" fill="#1a1a1a" stroke="#1a1a1a" stroke-width="0.1">&lt; .0001</text>
<line x1="158.80" y1="263.10" x2="166.33" y2="263.10" stroke="#c00f3a" stroke-width="1.1" />
<path d="M161.05,263.10 L162.65,261.75 L164.25,263.10 L162.65,264.45 Z" fill="#7d0a1e"/>
<text x="240.10" y="265.10" font-size="5.0" text-anchor="start" fill="#1a1a1a" stroke="#1a1a1a" stroke-width="0.1">1.44</text>
<text x="256.90" y="265.10" font-size="5.0" text-anchor="start" fill="#1a1a1a" stroke="#1a1a1a" stroke-width="0.1">[1.29-1.60]</text>
<text x="286.60" y="265.10" font-size="5.0" text-anchor="start" fill="#1a1a1a" stroke="#1a1a1a" stroke-width="0.1">&lt; .0001</text>
<line x1="188.31" y1="269.09" x2="217.02" y2="269.09" stroke="#c00f3a" stroke-width="1.1" />
<path d="M201.12,269.09 L202.72,267.74 L204.32,269.09 L202.72,270.44 Z" fill="#7d0a1e"/>
<text x="240.10" y="271.09" font-size="5.0" text-anchor="start" fill="#1a1a1a" stroke="#1a1a1a" stroke-width="0.1">4.53</text>
<text x="256.90" y="271.09" font-size="5.0" text-anchor="start" fill="#1a1a1a" stroke="#1a1a1a" stroke-width="0.1">[3.00-6.82]</text>
<text x="286.60" y="271.09" font-size="5.0" text-anchor="start" fill="#1a1a1a" stroke="#1a1a1a" stroke-width="0.1">&lt; .0001</text>
<line x1="160.13" y1="275.08" x2="170.84" y2="275.08" stroke="#c00f3a" stroke-width="1.1" />
<path d="M163.85,275.08 L165.45,273.73 L167.05,275.08 L165.45,276.43 Z" fill="#7d0a1e"/>
<text x="240.10" y="277.08" font-size="5.0" text-anchor="start" fill="#1a1a1a" stroke="#1a1a1a" stroke-width="0.1">1.56</text>
<text x="256.90" y="277.08" font-size="5.0" text-anchor="start" fill="#1a1a1a" stroke="#1a1a1a" stroke-width="0.1">[1.34-1.82]</text>
<text x="286.60" y="277.08" font-size="5.0" text-anchor="start" fill="#1a1a1a" stroke="#1a1a1a" stroke-width="0.1">&lt; .0001</text>
<line x1="178.41" y1="281.07" x2="206.72" y2="281.07" stroke="#c00f3a" stroke-width="1.1" />
<path d="M190.98,281.07 L192.58,279.72 L194.18,281.07 L192.58,282.42 Z" fill="#7d0a1e"/>
<text x="240.10" y="283.07" font-size="5.0" text-anchor="start" fill="#1a1a1a" stroke="#1a1a1a" stroke-width="0.1">3.39</text>
<text x="256.90" y="283.07" font-size="5.0" text-anchor="start" fill="#1a1a1a" stroke="#1a1a1a" stroke-width="0.1">[2.26-5.08]</text>
<text x="286.60" y="283.07" font-size="5.0" text-anchor="start" fill="#1a1a1a" stroke="#1a1a1a" stroke-width="0.1">&lt; .0001</text>
<line x1="155.09" y1="287.06" x2="169.46" y2="287.06" stroke="#c00f3a" stroke-width="1.1" />
<path d="M160.80,287.06 L162.40,285.71 L164.00,287.06 L162.40,288.41 Z" fill="#7d0a1e"/>
<text x="240.10" y="289.06" font-size="5.0" text-anchor="start" fill="#1a1a1a" stroke="#1a1a1a" stroke-width="0.1">1.43</text>
<text x="256.90" y="289.06" font-size="5.0" text-anchor="start" fill="#1a1a1a" stroke="#1a1a1a" stroke-width="0.1">[1.16-1.75]</text>
<text x="286.60" y="289.06" font-size="5.0" text-anchor="start" fill="#1a1a1a" stroke="#1a1a1a" stroke-width="0.1">.00077</text>
<line x1="169.86" y1="293.04" x2="217.22" y2="293.04" stroke="#c00f3a" stroke-width="1.1" />
<path d="M191.90,293.04 L193.50,291.69 L195.10,293.04 L193.50,294.39 Z" fill="#7d0a1e"/>
<text x="240.10" y="295.04" font-size="5.0" text-anchor="start" fill="#1a1a1a" stroke="#1a1a1a" stroke-width="0.1">3.48</text>
<text x="256.90" y="295.04" font-size="5.0" text-anchor="start" fill="#1a1a1a" stroke="#1a1a1a" stroke-width="0.1">[1.77-6.86]</text>
<text x="286.60" y="295.04" font-size="5.0" text-anchor="start" fill="#1a1a1a" stroke="#1a1a1a" stroke-width="0.1">.00031</text>
<line x1="161.66" y1="299.03" x2="177.31" y2="299.03" stroke="#c00f3a" stroke-width="1.1" />
<path d="M167.86,299.03 L169.46,297.68 L171.06,299.03 L169.46,300.38 Z" fill="#7d0a1e"/>
<text x="240.10" y="301.03" font-size="5.0" text-anchor="start" fill="#1a1a1a" stroke="#1a1a1a" stroke-width="0.1">1.75</text>
<text x="256.90" y="301.03" font-size="5.0" text-anchor="start" fill="#1a1a1a" stroke="#1a1a1a" stroke-width="0.1">[1.40-2.19]</text>
<text x="286.60" y="301.03" font-size="5.0" text-anchor="start" fill="#1a1a1a" stroke="#1a1a1a" stroke-width="0.1">&lt; .0001</text>
<line x1="180.80" y1="305.02" x2="213.86" y2="305.02" stroke="#c00f3a" stroke-width="1.1" />
<path d="M195.70,305.02 L197.30,303.67 L198.90,305.02 L197.30,306.37 Z" fill="#7d0a1e"/>
<text x="240.10" y="307.02" font-size="5.0" text-anchor="start" fill="#1a1a1a" stroke="#1a1a1a" stroke-width="0.1">3.88</text>
<text x="256.90" y="307.02" font-size="5.0" text-anchor="start" fill="#1a1a1a" stroke="#1a1a1a" stroke-width="0.1">[2.42-6.23]</text>
<text x="286.60" y="307.02" font-size="5.0" text-anchor="start" fill="#1a1a1a" stroke="#1a1a1a" stroke-width="0.1">&lt; .0001</text>
<line x1="149.55" y1="311.01" x2="169.26" y2="311.01" stroke="#c00f3a" stroke-width="1.1" />
<path d="M157.74,311.01 L159.34,309.66 L160.94,311.01 L159.34,312.36 Z" fill="#7d0a1e"/>
<text x="240.10" y="313.01" font-size="5.0" text-anchor="start" fill="#1a1a1a" stroke="#1a1a1a" stroke-width="0.1">1.31</text>
<text x="256.90" y="313.01" font-size="5.0" text-anchor="start" fill="#1a1a1a" stroke="#1a1a1a" stroke-width="0.1">[0.99-1.74]</text>
<text x="286.60" y="313.01" font-size="5.0" text-anchor="start" fill="#1a1a1a" stroke="#1a1a1a" stroke-width="0.1">.056</text>
<line x1="136.42" y1="328.97" x2="151.61" y2="328.97" stroke="#c00f3a" stroke-width="1.1" />
<path d="M142.62,328.97 L144.22,327.62 L145.82,328.97 L144.22,330.32 Z" fill="#7d0a1e"/>
<text x="240.10" y="330.97" font-size="5.0" text-anchor="start" fill="#1a1a1a" stroke="#1a1a1a" stroke-width="0.1">0.85</text>
<text x="256.90" y="330.97" font-size="5.0" text-anchor="start" fill="#1a1a1a" stroke="#1a1a1a" stroke-width="0.1">[0.68-1.05]</text>
<text x="286.60" y="330.97" font-size="5.0" text-anchor="start" fill="#1a1a1a" stroke="#1a1a1a" stroke-width="0.1">.14</text>
<line x1="120.39" y1="334.96" x2="138.90" y2="334.96" stroke="#c00f3a" stroke-width="1.1" />
<path d="M128.03,334.96 L129.63,333.61 L131.23,334.96 L129.63,336.31 Z" fill="#7d0a1e"/>
<text x="240.10" y="336.96" font-size="5.0" text-anchor="start" fill="#1a1a1a" stroke="#1a1a1a" stroke-width="0.1">0.56</text>
<text x="256.90" y="336.96" font-size="5.0" text-anchor="start" fill="#1a1a1a" stroke="#1a1a1a" stroke-width="0.1">[0.43-0.73]</text>
<text x="286.60" y="336.96" font-size="5.0" text-anchor="start" fill="#1a1a1a" stroke="#1a1a1a" stroke-width="0.1">&lt; .0001</text>
<line x1="145.03" y1="352.92" x2="157.70" y2="352.92" stroke="#c00f3a" stroke-width="1.1" />
<path d="M149.67,352.92 L151.27,351.57 L152.87,352.92 L151.27,354.27 Z" fill="#7d0a1e"/>
<text x="240.10" y="354.92" font-size="5.0" text-anchor="start" fill="#1a1a1a" stroke="#1a1a1a" stroke-width="0.1">1.04</text>
<text x="256.90" y="354.92" font-size="5.0" text-anchor="start" fill="#1a1a1a" stroke="#1a1a1a" stroke-width="0.1">[0.87-1.25]</text>
<text x="286.60" y="354.92" font-size="5.0" text-anchor="start" fill="#1a1a1a" stroke="#1a1a1a" stroke-width="0.1">.66</text>
<line x1="143.39" y1="358.91" x2="158.53" y2="358.91" stroke="#c00f3a" stroke-width="1.1" />
<path d="M149.33,358.91 L150.93,357.56 L152.53,358.91 L150.93,360.26 Z" fill="#7d0a1e"/>
<text x="240.10" y="360.91" font-size="5.0" text-anchor="start" fill="#1a1a1a" stroke="#1a1a1a" stroke-width="0.1">1.03</text>
<text x="256.90" y="360.91" font-size="5.0" text-anchor="start" fill="#1a1a1a" stroke="#1a1a1a" stroke-width="0.1">[0.83-1.28]</text>
<text x="286.60" y="360.91" font-size="5.0" text-anchor="start" fill="#1a1a1a" stroke="#1a1a1a" stroke-width="0.1">.78</text>
<line x1="135.37" y1="364.90" x2="157.14" y2="364.90" stroke="#c00f3a" stroke-width="1.1" />
<path d="M144.62,364.90 L146.22,363.55 L147.82,364.90 L146.22,366.25 Z" fill="#7d0a1e"/>
<text x="240.10" y="366.90" font-size="5.0" text-anchor="start" fill="#1a1a1a" stroke="#1a1a1a" stroke-width="0.1">0.90</text>
<text x="256.90" y="366.90" font-size="5.0" text-anchor="start" fill="#1a1a1a" stroke="#1a1a1a" stroke-width="0.1">[0.66-1.23]</text>
<text x="286.60" y="366.90" font-size="5.0" text-anchor="start" fill="#1a1a1a" stroke="#1a1a1a" stroke-width="0.1">.52</text>
<line x1="147.74" y1="370.89" x2="158.80" y2="370.89" stroke="#c00f3a" stroke-width="1.1" />
<path d="M151.63,370.89 L153.23,369.54 L154.83,370.89 L153.23,372.24 Z" fill="#7d0a1e"/>
<text x="240.10" y="372.89" font-size="5.0" text-anchor="start" fill="#1a1a1a" stroke="#1a1a1a" stroke-width="0.1">1.10</text>
<text x="256.90" y="372.89" font-size="5.0" text-anchor="start" fill="#1a1a1a" stroke="#1a1a1a" stroke-width="0.1">[0.94-1.29]</text>
<text x="286.60" y="372.89" font-size="5.0" text-anchor="start" fill="#1a1a1a" stroke="#1a1a1a" stroke-width="0.1">.24</text>
<line x1="143.80" y1="388.85" x2="160.13" y2="388.85" stroke="#c00f3a" stroke-width="1.1" />
<path d="M150.34,388.85 L151.94,387.50 L153.54,388.85 L151.94,390.20 Z" fill="#7d0a1e"/>
<text x="240.10" y="390.85" font-size="5.0" text-anchor="start" fill="#1a1a1a" stroke="#1a1a1a" stroke-width="0.1">1.06</text>
<text x="256.90" y="390.85" font-size="5.0" text-anchor="start" fill="#1a1a1a" stroke="#1a1a1a" stroke-width="0.1">[0.84-1.34]</text>
<text x="286.60" y="390.85" font-size="5.0" text-anchor="start" fill="#1a1a1a" stroke="#1a1a1a" stroke-width="0.1">.60</text>
<line x1="142.53" y1="394.84" x2="158.26" y2="394.84" stroke="#c00f3a" stroke-width="1.1" />
<path d="M148.65,394.84 L150.25,393.49 L151.85,394.84 L150.25,396.19 Z" fill="#7d0a1e"/>
<text x="240.10" y="396.84" font-size="5.0" text-anchor="start" fill="#1a1a1a" stroke="#1a1a1a" stroke-width="0.1">1.01</text>
<text x="256.90" y="396.84" font-size="5.0" text-anchor="start" fill="#1a1a1a" stroke="#1a1a1a" stroke-width="0.1">[0.81-1.27]</text>
<text x="286.60" y="396.84" font-size="5.0" text-anchor="start" fill="#1a1a1a" stroke="#1a1a1a" stroke-width="0.1">.90</text>
<line x1="142.53" y1="400.83" x2="158.26" y2="400.83" stroke="#c00f3a" stroke-width="1.1" />
<path d="M148.65,400.83 L150.25,399.48 L151.85,400.83 L150.25,402.18 Z" fill="#7d0a1e"/>
<text x="240.10" y="402.83" font-size="5.0" text-anchor="start" fill="#1a1a1a" stroke="#1a1a1a" stroke-width="0.1">1.01</text>
<text x="256.90" y="402.83" font-size="5.0" text-anchor="start" fill="#1a1a1a" stroke="#1a1a1a" stroke-width="0.1">[0.81-1.27]</text>
<text x="286.60" y="402.83" font-size="5.0" text-anchor="start" fill="#1a1a1a" stroke="#1a1a1a" stroke-width="0.1">.92</text>
<line x1="152.27" y1="406.82" x2="166.55" y2="406.82" stroke="#c00f3a" stroke-width="1.1" />
<path d="M157.74,406.82 L159.34,405.47 L160.94,406.82 L159.34,408.17 Z" fill="#7d0a1e"/>
<text x="240.10" y="408.82" font-size="5.0" text-anchor="start" fill="#1a1a1a" stroke="#1a1a1a" stroke-width="0.1">1.31</text>
<text x="256.90" y="408.82" font-size="5.0" text-anchor="start" fill="#1a1a1a" stroke="#1a1a1a" stroke-width="0.1">[1.07-1.61]</text>
<text x="286.60" y="408.82" font-size="5.0" text-anchor="start" fill="#1a1a1a" stroke="#1a1a1a" stroke-width="0.1">.010</text>
<line x1="142.96" y1="412.80" x2="155.98" y2="412.80" stroke="#c00f3a" stroke-width="1.1" />
<path d="M147.95,412.80 L149.55,411.45 L151.15,412.80 L149.55,414.15 Z" fill="#7d0a1e"/>
<text x="240.10" y="414.80" font-size="5.0" text-anchor="start" fill="#1a1a1a" stroke="#1a1a1a" stroke-width="0.1">0.99</text>
<text x="256.90" y="414.80" font-size="5.0" text-anchor="start" fill="#1a1a1a" stroke="#1a1a1a" stroke-width="0.1">[0.82-1.19]</text>
<text x="286.60" y="414.80" font-size="5.0" text-anchor="start" fill="#1a1a1a" stroke="#1a1a1a" stroke-width="0.1">.89</text>
<line x1="138.42" y1="418.79" x2="154.48" y2="418.79" stroke="#c00f3a" stroke-width="1.1" />
<path d="M145.00,418.79 L146.60,417.44 L148.20,418.79 L146.60,420.14 Z" fill="#7d0a1e"/>
<text x="240.10" y="420.79" font-size="5.0" text-anchor="start" fill="#1a1a1a" stroke="#1a1a1a" stroke-width="0.1">0.91</text>
<text x="256.90" y="420.79" font-size="5.0" text-anchor="start" fill="#1a1a1a" stroke="#1a1a1a" stroke-width="0.1">[0.72-1.14]</text>
<text x="286.60" y="420.79" font-size="5.0" text-anchor="start" fill="#1a1a1a" stroke="#1a1a1a" stroke-width="0.1">.41</text>
<text x="243.00" y="212.00" font-size="6.2" text-anchor="middle" fill="#1a1a1a" stroke="#1a1a1a" stroke-width="0.1">PR</text>
<text x="254.60" y="212.00" font-size="6.2" text-anchor="start" fill="#1a1a1a" textLength="20.0" lengthAdjust="spacingAndGlyphs" stroke="#1a1a1a" stroke-width="0.1">95% CI</text>
<text x="285.70" y="212.00" font-size="6.2" text-anchor="start" fill="#1a1a1a" textLength="18.6" lengthAdjust="spacingAndGlyphs" stroke="#1a1a1a" stroke-width="0.1"><tspan font-style="italic">P</tspan>-value</text>
<line x1="123.00" y1="439.50" x2="231.00" y2="439.50" stroke="#222" stroke-width="0.9" />
<line x1="125.67" y1="439.50" x2="125.67" y2="442.30" stroke="#222" stroke-width="0.8" />
<text x="125.67" y="450.60" font-size="6.2" text-anchor="middle" fill="#222" stroke="#222" stroke-width="0.1">0.5</text>
<line x1="149.90" y1="439.50" x2="149.90" y2="442.30" stroke="#222" stroke-width="0.8" />
<text x="149.90" y="450.60" font-size="6.2" text-anchor="middle" fill="#222" stroke="#222" stroke-width="0.1">1.0</text>
<line x1="174.13" y1="439.50" x2="174.13" y2="442.30" stroke="#222" stroke-width="0.8" />
<text x="174.13" y="450.60" font-size="6.2" text-anchor="middle" fill="#222" stroke="#222" stroke-width="0.1">2.0</text>
<line x1="206.17" y1="439.50" x2="206.17" y2="442.30" stroke="#222" stroke-width="0.8" />
<text x="206.17" y="450.60" font-size="6.2" text-anchor="middle" fill="#222" stroke="#222" stroke-width="0.1">5.0</text>
<line x1="230.40" y1="439.50" x2="230.40" y2="442.30" stroke="#222" stroke-width="0.8" />
<text x="230.40" y="450.60" font-size="6.2" text-anchor="middle" fill="#222" stroke="#222" stroke-width="0.1">10.0</text>
<line x1="99.00" y1="452.80" x2="140.30" y2="452.80" stroke="#3a3a3a" stroke-width="1.2" />
<path d="M96.80,452.8 L100.40,451.3 L100.40,454.3 Z" fill="#222"/>
<line x1="190.80" y1="452.80" x2="231.60" y2="452.80" stroke="#3a3a3a" stroke-width="1.2" />
<path d="M234.20,452.8 L230.60,451.3 L230.60,454.3 Z" fill="#222"/>
<text x="148.60" y="461.00" font-size="6.0" text-anchor="end" fill="#222" font-style="italic" stroke="#222" stroke-width="0.1">Higher in low response</text>
<text x="181.60" y="461.00" font-size="6.0" text-anchor="start" fill="#222" font-style="italic" stroke="#222" stroke-width="0.1">Higher in high response</text>
<rect x="309.30" y="218.49" width="128.20" height="5.80" fill="#c8c8cc" stroke="none" stroke-width="0" />
<rect x="309.30" y="230.46" width="128.20" height="5.80" fill="#c8c8cc" stroke="none" stroke-width="0" />
<rect x="309.30" y="242.44" width="128.20" height="5.80" fill="#c8c8cc" stroke="none" stroke-width="0" />
<rect x="309.30" y="254.42" width="128.20" height="5.80" fill="#c8c8cc" stroke="none" stroke-width="0" />
<rect x="309.30" y="266.39" width="128.20" height="5.80" fill="#c8c8cc" stroke="none" stroke-width="0" />
<rect x="309.30" y="278.37" width="128.20" height="5.80" fill="#c8c8cc" stroke="none" stroke-width="0" />
<rect x="309.30" y="290.34" width="128.20" height="5.80" fill="#c8c8cc" stroke="none" stroke-width="0" />
<rect x="309.30" y="302.32" width="128.20" height="5.80" fill="#c8c8cc" stroke="none" stroke-width="0" />
<rect x="309.30" y="314.30" width="128.20" height="5.80" fill="#c8c8cc" stroke="none" stroke-width="0" />
<rect x="309.30" y="326.27" width="128.20" height="5.80" fill="#c8c8cc" stroke="none" stroke-width="0" />
<rect x="309.30" y="338.25" width="128.20" height="5.80" fill="#c8c8cc" stroke="none" stroke-width="0" />
<rect x="309.30" y="350.22" width="128.20" height="5.80" fill="#c8c8cc" stroke="none" stroke-width="0" />
<rect x="309.30" y="362.20" width="128.20" height="5.80" fill="#c8c8cc" stroke="none" stroke-width="0" />
<rect x="309.30" y="374.18" width="128.20" height="5.80" fill="#c8c8cc" stroke="none" stroke-width="0" />
<rect x="309.30" y="386.15" width="128.20" height="5.80" fill="#c8c8cc" stroke="none" stroke-width="0" />
<rect x="309.30" y="398.13" width="128.20" height="5.80" fill="#c8c8cc" stroke="none" stroke-width="0" />
<rect x="309.30" y="410.10" width="128.20" height="5.80" fill="#c8c8cc" stroke="none" stroke-width="0" />
<rect x="309.30" y="422.08" width="128.20" height="5.80" fill="#c8c8cc" stroke="none" stroke-width="0" />
<line x1="357.30" y1="199.70" x2="357.30" y2="216.50" stroke="#8a8a8a" stroke-width="0.7" />
<line x1="357.30" y1="217.00" x2="357.30" y2="439.50" stroke="#2a2a2a" stroke-width="0.9" stroke-dasharray="1 1"/>
<text x="357.00" y="196.70" font-size="6.2" text-anchor="middle" fill="#222" stroke="#222" stroke-width="0.1">epi</text>
<line x1="361.03" y1="221.19" x2="366.87" y2="221.19" stroke="#c00f3a" stroke-width="1.1" />
<path d="M362.18,221.19 L363.78,219.84 L365.38,221.19 L363.78,222.54 Z" fill="#7d0a1e"/>
<text x="444.70" y="223.19" font-size="5.0" text-anchor="start" fill="#1a1a1a" stroke="#1a1a1a" stroke-width="0.1">1.19</text>
<text x="461.50" y="223.19" font-size="5.0" text-anchor="start" fill="#1a1a1a" stroke="#1a1a1a" stroke-width="0.1">[1.10-1.30]</text>
<text x="491.20" y="223.19" font-size="5.0" text-anchor="start" fill="#1a1a1a" stroke="#1a1a1a" stroke-width="0.1">&lt; .0001</text>
<line x1="352.02" y1="227.18" x2="359.41" y2="227.18" stroke="#c00f3a" stroke-width="1.1" />
<path d="M354.31,227.18 L355.91,225.83 L357.51,227.18 L355.91,228.53 Z" fill="#7d0a1e"/>
<text x="444.70" y="229.18" font-size="5.0" text-anchor="start" fill="#1a1a1a" stroke="#1a1a1a" stroke-width="0.1">0.95</text>
<text x="461.50" y="229.18" font-size="5.0" text-anchor="start" fill="#1a1a1a" stroke="#1a1a1a" stroke-width="0.1">[0.85-1.05]</text>
<text x="491.20" y="229.18" font-size="5.0" text-anchor="start" fill="#1a1a1a" stroke="#1a1a1a" stroke-width="0.1">.30</text>
<line x1="370.69" y1="233.16" x2="379.40" y2="233.16" stroke="#c00f3a" stroke-width="1.1" />
<path d="M373.39,233.16 L374.99,231.81 L376.59,233.16 L374.99,234.51 Z" fill="#7d0a1e"/>
<text x="444.70" y="235.16" font-size="5.0" text-anchor="start" fill="#1a1a1a" stroke="#1a1a1a" stroke-width="0.1">1.64</text>
<text x="461.50" y="235.16" font-size="5.0" text-anchor="start" fill="#1a1a1a" stroke="#1a1a1a" stroke-width="0.1">[1.45-1.86]</text>
<text x="491.20" y="235.16" font-size="5.0" text-anchor="start" fill="#1a1a1a" stroke="#1a1a1a" stroke-width="0.1">&lt; .0001</text>
<line x1="360.39" y1="239.15" x2="365.22" y2="239.15" stroke="#c00f3a" stroke-width="1.1" />
<path d="M360.99,239.15 L362.59,237.80 L364.19,239.15 L362.59,240.50 Z" fill="#7d0a1e"/>
<text x="444.70" y="241.15" font-size="5.0" text-anchor="start" fill="#1a1a1a" stroke="#1a1a1a" stroke-width="0.1">1.15</text>
<text x="461.50" y="241.15" font-size="5.0" text-anchor="start" fill="#1a1a1a" stroke="#1a1a1a" stroke-width="0.1">[1.08-1.24]</text>
<text x="491.20" y="241.15" font-size="5.0" text-anchor="start" fill="#1a1a1a" stroke="#1a1a1a" stroke-width="0.1">&lt; .0001</text>
<line x1="371.41" y1="245.14" x2="378.25" y2="245.14" stroke="#c00f3a" stroke-width="1.1" />
<path d="M373.39,245.14 L374.99,243.79 L376.59,245.14 L374.99,246.49 Z" fill="#7d0a1e"/>
<text x="444.70" y="247.14" font-size="5.0" text-anchor="start" fill="#1a1a1a" stroke="#1a1a1a" stroke-width="0.1">1.64</text>
<text x="461.50" y="247.14" font-size="5.0" text-anchor="start" fill="#1a1a1a" stroke="#1a1a1a" stroke-width="0.1">[1.48-1.80]</text>
<text x="491.20" y="247.14" font-size="5.0" text-anchor="start" fill="#1a1a1a" stroke="#1a1a1a" stroke-width="0.1">&lt; .0001</text>
<line x1="359.74" y1="251.13" x2="365.22" y2="251.13" stroke="#c00f3a" stroke-width="1.1" />
<path d="M360.99,251.13 L362.59,249.78 L364.19,251.13 L362.59,252.48 Z" fill="#7d0a1e"/>
<text x="444.70" y="253.13" font-size="5.0" text-anchor="start" fill="#1a1a1a" stroke="#1a1a1a" stroke-width="0.1">1.15</text>
<text x="461.50" y="253.13" font-size="5.0" text-anchor="start" fill="#1a1a1a" stroke="#1a1a1a" stroke-width="0.1">[1.06-1.24]</text>
<text x="491.20" y="253.13" font-size="5.0" text-anchor="start" fill="#1a1a1a" stroke="#1a1a1a" stroke-width="0.1">.00035</text>
<line x1="415.67" y1="257.12" x2="423.03" y2="257.12" stroke="#c00f3a" stroke-width="1.1" />
<path d="M417.74,257.12 L419.34,255.77 L420.94,257.12 L419.34,258.47 Z" fill="#7d0a1e"/>
<text x="444.70" y="259.12" font-size="5.0" text-anchor="start" fill="#1a1a1a" stroke="#1a1a1a" stroke-width="0.1">5.83</text>
<text x="461.50" y="259.12" font-size="5.0" text-anchor="start" fill="#1a1a1a" stroke="#1a1a1a" stroke-width="0.1">[5.25-6.48]</text>
<text x="491.20" y="259.12" font-size="5.0" text-anchor="start" fill="#1a1a1a" stroke="#1a1a1a" stroke-width="0.1">&lt; .0001</text>
<line x1="360.07" y1="263.10" x2="365.22" y2="263.10" stroke="#c00f3a" stroke-width="1.1" />
<path d="M360.99,263.10 L362.59,261.75 L364.19,263.10 L362.59,264.45 Z" fill="#7d0a1e"/>
<text x="444.70" y="265.10" font-size="5.0" text-anchor="start" fill="#1a1a1a" stroke="#1a1a1a" stroke-width="0.1">1.15</text>
<text x="461.50" y="265.10" font-size="5.0" text-anchor="start" fill="#1a1a1a" stroke="#1a1a1a" stroke-width="0.1">[1.07-1.24]</text>
<text x="491.20" y="265.10" font-size="5.0" text-anchor="start" fill="#1a1a1a" stroke="#1a1a1a" stroke-width="0.1">.00021</text>
<line x1="383.80" y1="269.09" x2="400.79" y2="269.09" stroke="#c00f3a" stroke-width="1.1" />
<path d="M389.91,269.09 L391.51,267.74 L393.11,269.09 L391.51,270.44 Z" fill="#7d0a1e"/>
<text x="444.70" y="271.09" font-size="5.0" text-anchor="start" fill="#1a1a1a" stroke="#1a1a1a" stroke-width="0.1">2.63</text>
<text x="461.50" y="271.09" font-size="5.0" text-anchor="start" fill="#1a1a1a" stroke="#1a1a1a" stroke-width="0.1">[2.11-3.43]</text>
<text x="491.20" y="271.09" font-size="5.0" text-anchor="start" fill="#1a1a1a" stroke="#1a1a1a" stroke-width="0.1">&lt; .0001</text>
<line x1="362.59" y1="275.08" x2="368.45" y2="275.08" stroke="#c00f3a" stroke-width="1.1" />
<path d="M363.90,275.08 L365.50,273.73 L367.10,275.08 L365.50,276.43 Z" fill="#7d0a1e"/>
<text x="444.70" y="277.08" font-size="5.0" text-anchor="start" fill="#1a1a1a" stroke="#1a1a1a" stroke-width="0.1">1.25</text>
<text x="461.50" y="277.08" font-size="5.0" text-anchor="start" fill="#1a1a1a" stroke="#1a1a1a" stroke-width="0.1">[1.15-1.36]</text>
<text x="491.20" y="277.08" font-size="5.0" text-anchor="start" fill="#1a1a1a" stroke="#1a1a1a" stroke-width="0.1">&lt; .0001</text>
<line x1="383.64" y1="281.07" x2="394.80" y2="281.07" stroke="#c00f3a" stroke-width="1.1" />
<path d="M387.57,281.07 L389.17,279.72 L390.77,281.07 L389.17,282.42 Z" fill="#7d0a1e"/>
<text x="444.70" y="283.07" font-size="5.0" text-anchor="start" fill="#1a1a1a" stroke="#1a1a1a" stroke-width="0.1">2.46</text>
<text x="461.50" y="283.07" font-size="5.0" text-anchor="start" fill="#1a1a1a" stroke="#1a1a1a" stroke-width="0.1">[2.10-2.89]</text>
<text x="491.20" y="283.07" font-size="5.0" text-anchor="start" fill="#1a1a1a" stroke="#1a1a1a" stroke-width="0.1">&lt; .0001</text>
<line x1="368.19" y1="287.06" x2="373.69" y2="287.06" stroke="#c00f3a" stroke-width="1.1" />
<path d="M369.33,287.06 L370.93,285.71 L372.53,287.06 L370.93,288.41 Z" fill="#7d0a1e"/>
<text x="444.70" y="289.06" font-size="5.0" text-anchor="start" fill="#1a1a1a" stroke="#1a1a1a" stroke-width="0.1">1.46</text>
<text x="461.50" y="289.06" font-size="5.0" text-anchor="start" fill="#1a1a1a" stroke="#1a1a1a" stroke-width="0.1">[1.35-1.58]</text>
<text x="491.20" y="289.06" font-size="5.0" text-anchor="start" fill="#1a1a1a" stroke="#1a1a1a" stroke-width="0.1">&lt; .0001</text>
<line x1="379.96" y1="293.04" x2="396.69" y2="293.04" stroke="#c00f3a" stroke-width="1.1" />
<path d="M386.71,293.04 L388.31,291.69 L389.91,293.04 L388.31,294.39 Z" fill="#7d0a1e"/>
<text x="444.70" y="295.04" font-size="5.0" text-anchor="start" fill="#1a1a1a" stroke="#1a1a1a" stroke-width="0.1">2.40</text>
<text x="461.50" y="295.04" font-size="5.0" text-anchor="start" fill="#1a1a1a" stroke="#1a1a1a" stroke-width="0.1">[1.89-3.05]</text>
<text x="491.20" y="295.04" font-size="5.0" text-anchor="start" fill="#1a1a1a" stroke="#1a1a1a" stroke-width="0.1">&lt; .0001</text>
<line x1="372.11" y1="299.03" x2="379.02" y2="299.03" stroke="#c00f3a" stroke-width="1.1" />
<path d="M373.82,299.03 L375.42,297.68 L377.02,299.03 L375.42,300.38 Z" fill="#7d0a1e"/>
<text x="444.70" y="301.03" font-size="5.0" text-anchor="start" fill="#1a1a1a" stroke="#1a1a1a" stroke-width="0.1">1.66</text>
<text x="461.50" y="301.03" font-size="5.0" text-anchor="start" fill="#1a1a1a" stroke="#1a1a1a" stroke-width="0.1">[1.51-1.84]</text>
<text x="491.20" y="301.03" font-size="5.0" text-anchor="start" fill="#1a1a1a" stroke="#1a1a1a" stroke-width="0.1">&lt; .0001</text>
<line x1="361.35" y1="305.02" x2="371.88" y2="305.02" stroke="#c00f3a" stroke-width="1.1" />
<path d="M365.00,305.02 L366.60,303.67 L368.20,305.02 L366.60,306.37 Z" fill="#7d0a1e"/>
<text x="444.70" y="307.02" font-size="5.0" text-anchor="start" fill="#1a1a1a" stroke="#1a1a1a" stroke-width="0.1">1.29</text>
<text x="461.50" y="307.02" font-size="5.0" text-anchor="start" fill="#1a1a1a" stroke="#1a1a1a" stroke-width="0.1">[1.11-1.50]</text>
<text x="491.20" y="307.02" font-size="5.0" text-anchor="start" fill="#1a1a1a" stroke="#1a1a1a" stroke-width="0.1">.00083</text>
<line x1="356.64" y1="311.01" x2="363.49" y2="311.01" stroke="#c00f3a" stroke-width="1.1" />
<path d="M358.47,311.01 L360.07,309.66 L361.67,311.01 L360.07,312.36 Z" fill="#7d0a1e"/>
<text x="444.70" y="313.01" font-size="5.0" text-anchor="start" fill="#1a1a1a" stroke="#1a1a1a" stroke-width="0.1">1.07</text>
<text x="461.50" y="313.01" font-size="5.0" text-anchor="start" fill="#1a1a1a" stroke="#1a1a1a" stroke-width="0.1">[0.97-1.18]</text>
<text x="491.20" y="313.01" font-size="5.0" text-anchor="start" fill="#1a1a1a" stroke="#1a1a1a" stroke-width="0.1">.18</text>
<line x1="352.83" y1="328.97" x2="358.39" y2="328.97" stroke="#c00f3a" stroke-width="1.1" />
<path d="M354.31,328.97 L355.91,327.62 L357.51,328.97 L355.91,330.32 Z" fill="#7d0a1e"/>
<text x="444.70" y="330.97" font-size="5.0" text-anchor="start" fill="#1a1a1a" stroke="#1a1a1a" stroke-width="0.1">0.95</text>
<text x="461.50" y="330.97" font-size="5.0" text-anchor="start" fill="#1a1a1a" stroke="#1a1a1a" stroke-width="0.1">[0.87-1.02]</text>
<text x="491.20" y="330.97" font-size="5.0" text-anchor="start" fill="#1a1a1a" stroke="#1a1a1a" stroke-width="0.1">.17</text>
<line x1="339.84" y1="334.96" x2="347.17" y2="334.96" stroke="#c00f3a" stroke-width="1.1" />
<path d="M342.10,334.96 L343.70,333.61 L345.30,334.96 L343.70,336.31 Z" fill="#7d0a1e"/>
<text x="444.70" y="336.96" font-size="5.0" text-anchor="start" fill="#1a1a1a" stroke="#1a1a1a" stroke-width="0.1">0.67</text>
<text x="461.50" y="336.96" font-size="5.0" text-anchor="start" fill="#1a1a1a" stroke="#1a1a1a" stroke-width="0.1">[0.60-0.74]</text>
<text x="491.20" y="336.96" font-size="5.0" text-anchor="start" fill="#1a1a1a" stroke="#1a1a1a" stroke-width="0.1">&lt; .0001</text>
<line x1="355.54" y1="352.92" x2="360.07" y2="352.92" stroke="#c00f3a" stroke-width="1.1" />
<path d="M356.10,352.92 L357.70,351.57 L359.30,352.92 L357.70,354.27 Z" fill="#7d0a1e"/>
<text x="444.70" y="354.92" font-size="5.0" text-anchor="start" fill="#1a1a1a" stroke="#1a1a1a" stroke-width="0.1">1.00</text>
<text x="461.50" y="354.92" font-size="5.0" text-anchor="start" fill="#1a1a1a" stroke="#1a1a1a" stroke-width="0.1">[0.94-1.07]</text>
<text x="491.20" y="354.92" font-size="5.0" text-anchor="start" fill="#1a1a1a" stroke="#1a1a1a" stroke-width="0.1">.93</text>
<line x1="356.64" y1="358.91" x2="360.39" y2="358.91" stroke="#c00f3a" stroke-width="1.1" />
<path d="M356.79,358.91 L358.39,357.56 L359.99,358.91 L358.39,360.26 Z" fill="#7d0a1e"/>
<text x="444.70" y="360.91" font-size="5.0" text-anchor="start" fill="#1a1a1a" stroke="#1a1a1a" stroke-width="0.1">1.02</text>
<text x="461.50" y="360.91" font-size="5.0" text-anchor="start" fill="#1a1a1a" stroke="#1a1a1a" stroke-width="0.1">[0.97-1.08]</text>
<text x="491.20" y="360.91" font-size="5.0" text-anchor="start" fill="#1a1a1a" stroke="#1a1a1a" stroke-width="0.1">.46</text>
<line x1="355.91" y1="364.90" x2="359.41" y2="364.90" stroke="#c00f3a" stroke-width="1.1" />
<path d="M356.10,364.90 L357.70,363.55 L359.30,364.90 L357.70,366.25 Z" fill="#7d0a1e"/>
<text x="444.70" y="366.90" font-size="5.0" text-anchor="start" fill="#1a1a1a" stroke="#1a1a1a" stroke-width="0.1">1.00</text>
<text x="461.50" y="366.90" font-size="5.0" text-anchor="start" fill="#1a1a1a" stroke="#1a1a1a" stroke-width="0.1">[0.95-1.05]</text>
<text x="491.20" y="366.90" font-size="5.0" text-anchor="start" fill="#1a1a1a" stroke="#1a1a1a" stroke-width="0.1">.97</text>
<line x1="355.54" y1="370.89" x2="359.74" y2="370.89" stroke="#c00f3a" stroke-width="1.1" />
<path d="M356.10,370.89 L357.70,369.54 L359.30,370.89 L357.70,372.24 Z" fill="#7d0a1e"/>
<text x="444.70" y="372.89" font-size="5.0" text-anchor="start" fill="#1a1a1a" stroke="#1a1a1a" stroke-width="0.1">1.00</text>
<text x="461.50" y="372.89" font-size="5.0" text-anchor="start" fill="#1a1a1a" stroke="#1a1a1a" stroke-width="0.1">[0.94-1.06]</text>
<text x="491.20" y="372.89" font-size="5.0" text-anchor="start" fill="#1a1a1a" stroke="#1a1a1a" stroke-width="0.1">.95</text>
<line x1="354.40" y1="388.85" x2="365.22" y2="388.85" stroke="#c00f3a" stroke-width="1.1" />
<path d="M358.47,388.85 L360.07,387.50 L361.67,388.85 L360.07,390.20 Z" fill="#7d0a1e"/>
<text x="444.70" y="390.85" font-size="5.0" text-anchor="start" fill="#1a1a1a" stroke="#1a1a1a" stroke-width="0.1">1.07</text>
<text x="461.50" y="390.85" font-size="5.0" text-anchor="start" fill="#1a1a1a" stroke="#1a1a1a" stroke-width="0.1">[0.91-1.24]</text>
<text x="491.20" y="390.85" font-size="5.0" text-anchor="start" fill="#1a1a1a" stroke="#1a1a1a" stroke-width="0.1">.42</text>
<line x1="353.63" y1="394.84" x2="367.93" y2="394.84" stroke="#c00f3a" stroke-width="1.1" />
<path d="M359.11,394.84 L360.71,393.49 L362.31,394.84 L360.71,396.19 Z" fill="#7d0a1e"/>
<text x="444.70" y="396.84" font-size="5.0" text-anchor="start" fill="#1a1a1a" stroke="#1a1a1a" stroke-width="0.1">1.09</text>
<text x="461.50" y="396.84" font-size="5.0" text-anchor="start" fill="#1a1a1a" stroke="#1a1a1a" stroke-width="0.1">[0.89-1.34]</text>
<text x="491.20" y="396.84" font-size="5.0" text-anchor="start" fill="#1a1a1a" stroke="#1a1a1a" stroke-width="0.1">.40</text>
<line x1="351.60" y1="400.83" x2="364.36" y2="400.83" stroke="#c00f3a" stroke-width="1.1" />
<path d="M356.45,400.83 L358.05,399.48 L359.65,400.83 L358.05,402.18 Z" fill="#7d0a1e"/>
<text x="444.70" y="402.83" font-size="5.0" text-anchor="start" fill="#1a1a1a" stroke="#1a1a1a" stroke-width="0.1">1.01</text>
<text x="461.50" y="402.83" font-size="5.0" text-anchor="start" fill="#1a1a1a" stroke="#1a1a1a" stroke-width="0.1">[0.84-1.21]</text>
<text x="491.20" y="402.83" font-size="5.0" text-anchor="start" fill="#1a1a1a" stroke="#1a1a1a" stroke-width="0.1">.91</text>
<line x1="357.70" y1="406.82" x2="372.57" y2="406.82" stroke="#c00f3a" stroke-width="1.1" />
<path d="M363.62,406.82 L365.22,405.47 L366.82,406.82 L365.22,408.17 Z" fill="#7d0a1e"/>
<text x="444.70" y="408.82" font-size="5.0" text-anchor="start" fill="#1a1a1a" stroke="#1a1a1a" stroke-width="0.1">1.24</text>
<text x="461.50" y="408.82" font-size="5.0" text-anchor="start" fill="#1a1a1a" stroke="#1a1a1a" stroke-width="0.1">[1.00-1.53]</text>
<text x="491.20" y="408.82" font-size="5.0" text-anchor="start" fill="#1a1a1a" stroke="#1a1a1a" stroke-width="0.1">.052</text>
<line x1="352.83" y1="412.80" x2="365.78" y2="412.80" stroke="#c00f3a" stroke-width="1.1" />
<path d="M357.81,412.80 L359.41,411.45 L361.01,412.80 L359.41,414.15 Z" fill="#7d0a1e"/>
<text x="444.70" y="414.80" font-size="5.0" text-anchor="start" fill="#1a1a1a" stroke="#1a1a1a" stroke-width="0.1">1.05</text>
<text x="461.50" y="414.80" font-size="5.0" text-anchor="start" fill="#1a1a1a" stroke="#1a1a1a" stroke-width="0.1">[0.87-1.26]</text>
<text x="491.20" y="414.80" font-size="5.0" text-anchor="start" fill="#1a1a1a" stroke="#1a1a1a" stroke-width="0.1">.64</text>
<line x1="353.23" y1="418.79" x2="363.78" y2="418.79" stroke="#c00f3a" stroke-width="1.1" />
<path d="M356.79,418.79 L358.39,417.44 L359.99,418.79 L358.39,420.14 Z" fill="#7d0a1e"/>
<text x="444.70" y="420.79" font-size="5.0" text-anchor="start" fill="#1a1a1a" stroke="#1a1a1a" stroke-width="0.1">1.02</text>
<text x="461.50" y="420.79" font-size="5.0" text-anchor="start" fill="#1a1a1a" stroke="#1a1a1a" stroke-width="0.1">[0.88-1.19]</text>
<text x="491.20" y="420.79" font-size="5.0" text-anchor="start" fill="#1a1a1a" stroke="#1a1a1a" stroke-width="0.1">.76</text>
<text x="447.60" y="212.00" font-size="6.2" text-anchor="middle" fill="#1a1a1a" stroke="#1a1a1a" stroke-width="0.1">PR</text>
<text x="459.20" y="212.00" font-size="6.2" text-anchor="start" fill="#1a1a1a" textLength="20.0" lengthAdjust="spacingAndGlyphs" stroke="#1a1a1a" stroke-width="0.1">95% CI</text>
<text x="490.30" y="212.00" font-size="6.2" text-anchor="start" fill="#1a1a1a" textLength="18.6" lengthAdjust="spacingAndGlyphs" stroke="#1a1a1a" stroke-width="0.1"><tspan font-style="italic">P</tspan>-value</text>
<line x1="330.80" y1="439.50" x2="438.80" y2="439.50" stroke="#222" stroke-width="0.9" />
<line x1="333.47" y1="439.50" x2="333.47" y2="442.30" stroke="#222" stroke-width="0.8" />
<text x="333.47" y="450.60" font-size="6.2" text-anchor="middle" fill="#222" stroke="#222" stroke-width="0.1">0.5</text>
<line x1="357.70" y1="439.50" x2="357.70" y2="442.30" stroke="#222" stroke-width="0.8" />
<text x="357.70" y="450.60" font-size="6.2" text-anchor="middle" fill="#222" stroke="#222" stroke-width="0.1">1.0</text>
<line x1="381.93" y1="439.50" x2="381.93" y2="442.30" stroke="#222" stroke-width="0.8" />
<text x="381.93" y="450.60" font-size="6.2" text-anchor="middle" fill="#222" stroke="#222" stroke-width="0.1">2.0</text>
<line x1="413.97" y1="439.50" x2="413.97" y2="442.30" stroke="#222" stroke-width="0.8" />
<text x="413.97" y="450.60" font-size="6.2" text-anchor="middle" fill="#222" stroke="#222" stroke-width="0.1">5.0</text>
<line x1="438.20" y1="439.50" x2="438.20" y2="442.30" stroke="#222" stroke-width="0.8" />
<text x="438.20" y="450.60" font-size="6.2" text-anchor="middle" fill="#222" stroke="#222" stroke-width="0.1">10.0</text>
<line x1="306.80" y1="452.80" x2="348.10" y2="452.80" stroke="#3a3a3a" stroke-width="1.2" />
<path d="M304.60,452.8 L308.20,451.3 L308.20,454.3 Z" fill="#222"/>
<line x1="398.60" y1="452.80" x2="439.40" y2="452.80" stroke="#3a3a3a" stroke-width="1.2" />
<path d="M442.00,452.8 L438.40,451.3 L438.40,454.3 Z" fill="#222"/>
<text x="356.40" y="461.00" font-size="6.0" text-anchor="end" fill="#222" font-style="italic" stroke="#222" stroke-width="0.1">Higher in low response</text>
<text x="389.40" y="461.00" font-size="6.0" text-anchor="start" fill="#222" font-style="italic" stroke="#222" stroke-width="0.1">Higher in high response</text>
</svg>
<div class="bd"></div>
</div></body></html>
